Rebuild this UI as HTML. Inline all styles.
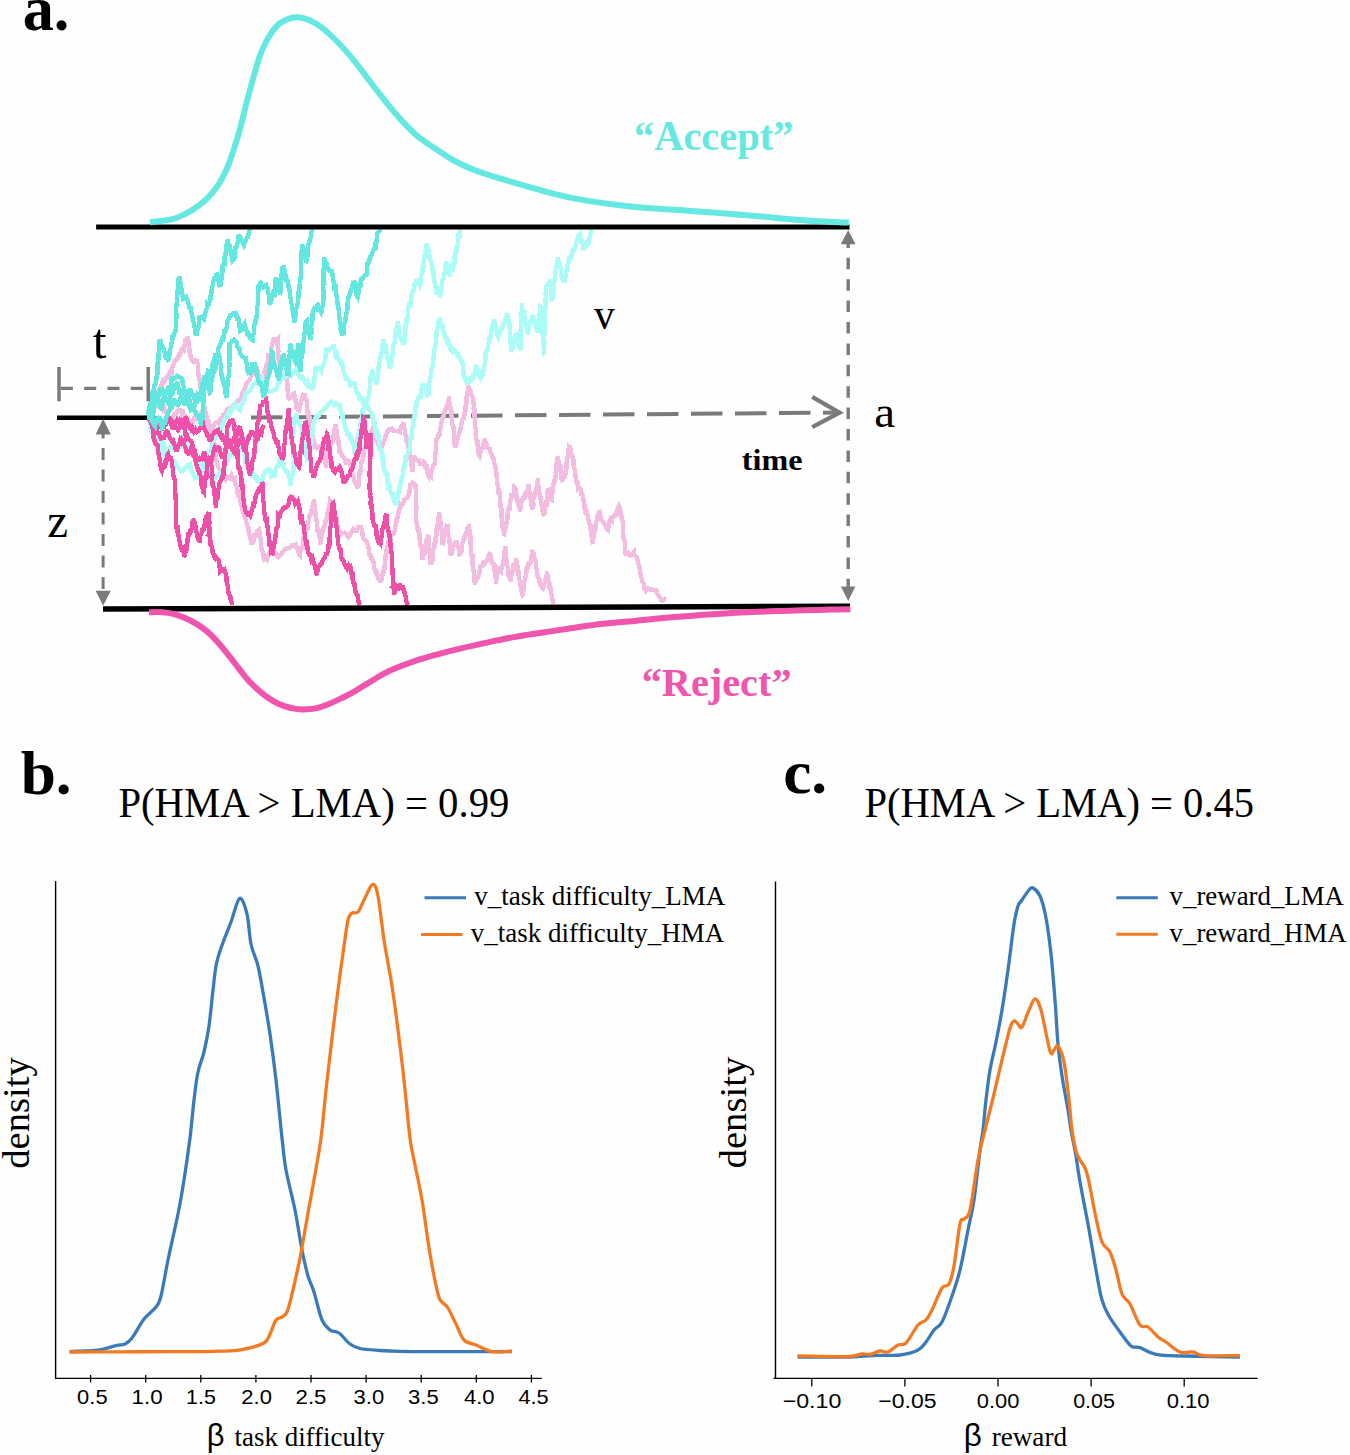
<!DOCTYPE html>
<html><head><meta charset="utf-8"><style>
html,body{margin:0;padding:0;background:#fefefe;}
svg{display:block;}
</style></head><body>
<svg width="1350" height="1455" viewBox="0 0 1350 1455">
<rect width="1350" height="1455" fill="#fefefe"/>

<line x1="251" y1="417.6" x2="839" y2="412.6" stroke="#7a7a7a" stroke-width="4" stroke-dasharray="31.5,12.5"/>
<polyline points="148.0,414.0 148.3,411.6 149.1,410.7 149.5,408.3 150.0,405.8 150.8,402.0 151.6,399.7 152.0,400.0 153.2,400.1 154.3,400.3 155.9,400.5 156.5,396.3 158.0,392.0 158.8,390.8 160.0,387.3 161.1,385.7 161.9,384.3 163.0,380.8 164.0,382.0 165.1,380.3 166.0,378.3 166.9,376.8 168.2,377.4 169.1,373.5 170.0,372.0 170.8,370.8 171.9,372.1 172.4,366.7 173.4,364.8 174.0,363.3 175.2,360.3 176.0,360.0 176.9,359.0 177.7,358.4 178.8,354.9 179.7,355.3 180.3,353.2 181.2,351.4 182.0,348.0 182.6,350.3 183.7,350.8 184.4,346.4 185.2,340.8 186.0,340.9 187.3,338.8 188.0,336.0 188.2,340.0 188.9,343.2 189.3,346.3 189.1,345.3 189.5,349.9 189.8,353.9 190.2,357.1 190.7,355.2 191.1,356.0 191.2,359.8 191.4,358.3 192.0,360.0 193.7,361.9 195.6,360.2 197.0,361.0 197.0,362.7 197.4,363.0 197.7,363.3 198.0,363.8 198.2,370.4 198.4,374.4 198.8,377.7 199.0,376.2 199.5,379.4 199.6,380.0 200.4,381.8 200.5,384.9 200.5,387.0 201.0,389.0 201.6,391.0 201.5,394.8 201.8,396.1 202.7,398.9 202.8,404.5 203.0,401.4 203.6,401.1 203.6,403.6 204.3,406.4 204.9,408.9 205.0,410.0 205.7,413.0 206.3,416.8 206.7,416.2 207.2,417.8 207.7,421.4 208.1,424.9 208.3,429.6 209.0,427.9 209.4,428.9 210.0,430.0 210.8,433.8 211.4,436.9 211.6,439.6 212.1,441.9 212.6,446.0 213.2,446.8 213.7,444.7 214.5,442.9 215.0,447.0 215.3,453.2 215.4,454.1 216.1,454.4 216.1,457.9 216.7,461.3 217.1,463.7 217.0,464.5 217.3,463.9 218.0,467.7 218.0,467.6 219.7,469.0 221.2,469.3 222.3,471.6 224.0,474.0 225.9,479.1 227.4,476.6 229.5,478.0 231.3,475.0 232.9,478.9 234.6,478.0 235.0,481.4 235.2,482.0 235.7,486.0 235.9,484.7 236.8,486.6 236.8,489.5 237.3,490.5 237.7,493.4 238.2,492.9 238.6,494.0 239.0,493.4 240.0,498.8 240.1,499.6 240.8,502.8 241.5,505.7 241.9,508.9 242.4,510.1 243.3,512.4 243.8,512.8 244.5,515.4 245.2,518.5 246.0,520.5 246.3,522.0 247.0,524.3 247.5,525.8 248.2,527.6 248.6,527.9 248.6,531.0 249.0,532.0 249.7,536.1 249.9,534.7 250.5,538.7 250.8,540.8 251.6,540.2 252.0,545.0 252.6,542.3 253.8,541.1 254.2,534.8 255.0,534.5 256.0,535.0 256.7,532.3 257.0,529.2 258.0,531.0 258.7,529.5 259.0,529.3 259.6,532.2 259.5,533.5 260.0,536.6 260.3,537.3 261.2,542.2 261.3,546.7 261.6,549.0 262.2,550.6 263.0,552.7 263.3,553.3 263.4,557.7 264.0,559.0 265.3,556.9 266.2,557.6 267.2,559.2 268.8,554.4 269.8,551.1 271.0,549.6 272.0,548.0 273.6,551.0 275.5,552.6 276.7,555.9 278.2,557.1 280.0,555.0 281.7,554.1 283.0,551.2 284.7,549.4 286.0,548.9 287.7,548.2 289.0,548.0 290.7,547.0 292.2,544.9 294.0,545.0 295.2,546.3 296.0,545.3 297.0,547.7 298.2,551.4 298.9,553.8 300.0,555.0 300.5,550.4 300.7,548.8 301.4,549.1 301.8,547.4 302.7,547.4 303.1,543.2 303.4,540.3 303.7,537.3 304.6,535.4 304.6,534.4 305.2,533.4 305.4,532.4 306.1,530.8 306.7,527.8 307.1,526.7 307.4,525.9 308.1,526.6 308.3,521.7 308.9,519.4 309.3,516.4 310.0,515.0 310.6,514.3 311.1,511.4 311.7,509.4 311.9,508.7 312.4,506.5 313.3,504.4 313.3,504.7 314.0,499.0 314.0,500.9 314.7,503.0 314.8,502.7 315.1,508.9 315.4,512.4 315.7,517.1 315.8,517.9 315.8,520.1 316.5,518.9 316.8,523.0 316.9,527.4 317.2,526.2 317.5,528.6 317.4,532.4 318.1,531.4 318.0,530.3 318.2,530.7 318.6,531.9 319.1,531.7 319.0,534.2 319.6,537.3 320.0,541.1 320.0,545.0 320.7,541.8 320.7,540.7 321.6,536.4 322.0,535.6 321.9,534.7 322.6,530.7 323.2,529.0 323.8,527.1 323.9,526.8 324.2,526.8 324.6,525.5 325.5,522.6 325.5,521.1 326.1,519.8 326.3,520.0 327.0,519.4 327.7,516.7 327.6,512.8 328.5,510.8 328.7,508.1 329.4,504.7 329.7,503.2 330.0,501.0 330.8,502.2 331.0,503.7 331.6,508.9 332.2,509.4 333.1,510.5 333.4,513.8 333.8,514.8 334.4,514.2 334.9,515.7 335.3,517.9 335.9,520.3 336.9,519.7 337.1,524.2 338.0,528.5 338.2,529.5 338.7,531.1 339.5,531.2 340.0,535.0 342.2,532.8 344.1,532.7 346.2,533.7 348.3,536.9 350.0,535.0 351.8,531.0 353.2,529.0 354.7,531.1 356.9,531.1 358.1,527.0 360.0,527.0 360.9,526.9 361.6,528.9 362.0,529.6 362.5,534.4 363.1,537.7 363.8,539.1 364.6,539.9 365.1,540.2 365.8,540.0 366.5,541.0 367.4,543.3 368.2,546.0 368.8,548.8 369.3,554.7 370.0,555.0 370.7,557.0 371.4,556.8 372.4,560.0 373.1,560.7 373.8,563.9 374.0,567.3 374.7,569.8 375.8,572.8 376.7,574.5 377.1,573.7 377.9,575.5 378.3,578.4 379.2,579.3 380.0,581.0 380.7,580.8 381.0,582.5 381.2,579.1 381.6,580.7 382.1,574.8 382.7,573.1 383.2,572.4 383.3,572.0 383.7,572.3 384.5,568.7 384.9,562.6 385.3,560.4 385.6,555.9 386.3,554.4 386.4,550.5 387.0,548.3 387.5,546.4 388.0,545.0 388.5,541.8 389.0,542.7 389.8,540.2 390.5,540.0 391.2,536.7 391.6,535.0 392.6,534.7 393.1,535.9 393.6,533.3 394.1,531.4 395.2,529.9 395.4,525.1 396.3,523.3 396.6,520.2 397.2,519.1 398.0,515.0 399.0,509.8 399.3,508.6 400.2,505.6 400.8,506.6 402.0,504.6 402.3,503.8 403.0,503.9 404.0,500.0 405.6,498.8 406.9,498.0 408.0,496.0 409.2,493.6 410.2,485.1 411.4,485.1 412.5,482.7 413.5,483.0 414.6,485.6 416.0,484.0 415.9,485.0 416.2,486.2 416.2,489.6 415.7,492.2 415.7,493.4 415.7,496.3 416.3,497.6 415.9,496.8 416.1,501.3 416.2,503.7 415.9,503.4 415.9,507.1 416.3,509.3 416.1,507.7 415.9,512.5 416.1,514.7 415.9,518.1 416.0,520.0 416.5,522.2 416.8,524.7 417.1,527.4 417.3,530.1 417.5,528.2 417.8,527.5 418.1,526.4 418.7,530.4 418.6,533.2 419.0,530.7 419.6,534.0 419.6,538.4 419.8,540.4 420.1,542.9 420.8,547.5 420.9,545.5 421.7,548.2 421.9,552.2 422.0,558.0 422.8,557.9 423.2,556.2 423.4,555.3 424.4,554.1 424.6,549.3 425.3,547.7 425.7,544.7 426.5,543.5 426.7,539.4 427.3,539.2 428.0,536.0 428.4,535.1 428.6,537.2 428.9,540.5 428.6,544.5 428.9,544.9 429.1,546.0 429.3,549.9 430.0,554.3 430.0,556.3 430.4,558.8 430.3,564.5 430.8,563.1 430.8,560.1 431.0,564.0 431.4,563.2 431.4,560.8 431.7,562.1 432.3,560.8 432.5,558.3 432.7,553.8 433.0,550.1 433.7,548.3 433.7,548.0 434.1,546.6 434.3,545.5 434.6,543.3 435.2,543.8 435.6,540.8 435.5,537.5 435.7,537.1 436.4,535.1 436.4,532.3 436.5,529.0 437.4,526.3 437.4,525.4 438.0,523.9 438.0,519.3 438.6,518.0 438.7,516.2 439.0,512.0 439.5,516.0 439.3,518.5 439.5,521.2 440.3,520.9 440.5,522.4 440.5,525.6 440.5,527.5 441.3,528.5 441.2,529.6 441.7,530.9 441.8,533.3 442.2,535.2 442.0,540.0 442.7,543.2 442.6,545.2 443.0,544.0 443.5,542.2 444.0,537.0 443.9,537.2 444.6,535.8 445.2,532.7 445.1,531.1 446.0,531.1 446.0,527.1 446.7,524.9 447.0,524.0 447.1,527.5 447.5,527.2 447.5,528.7 447.8,530.4 448.2,534.8 448.3,535.4 448.7,536.7 449.0,538.0 449.0,538.5 449.6,540.6 449.5,543.1 450.1,543.8 450.4,544.7 450.5,547.4 450.5,553.2 451.0,556.0 452.0,551.7 452.9,547.6 453.3,545.5 454.6,544.4 455.2,542.0 456.0,544.0 456.6,540.2 457.5,546.0 457.8,546.2 458.9,549.4 459.2,553.9 460.0,556.0 460.3,553.9 461.1,552.5 461.8,549.7 462.2,543.4 463.0,541.6 463.4,540.2 464.0,539.9 464.7,536.4 464.8,534.5 465.9,533.9 466.3,532.4 466.7,533.1 467.5,535.3 467.7,531.7 468.7,526.1 469.0,526.0 469.1,530.5 469.2,530.2 469.7,530.7 469.9,532.3 469.9,531.5 470.3,534.4 470.4,538.8 470.4,543.7 471.1,546.2 470.9,547.5 471.1,551.8 471.2,555.8 471.8,557.0 472.1,557.5 472.3,557.4 472.3,559.3 472.4,560.7 472.4,563.8 473.0,567.4 473.2,566.6 473.3,569.0 473.6,571.2 473.7,572.0 474.2,573.8 474.3,578.1 474.2,579.6 474.8,581.0 474.5,581.9 475.0,584.0 475.8,580.8 476.4,579.2 477.2,578.1 478.0,577.6 478.3,576.4 479.1,574.9 479.8,569.2 480.3,566.5 481.5,566.2 482.0,566.0 482.8,565.3 483.8,560.8 484.8,563.3 485.7,562.1 486.9,560.6 488.1,557.0 489.1,555.6 490.0,552.0 490.6,555.7 490.9,555.1 491.0,556.8 491.7,561.3 491.8,560.0 492.1,563.3 492.9,563.7 493.1,565.5 493.5,564.2 493.8,562.1 494.4,564.9 494.5,570.9 495.1,574.4 495.4,576.5 495.8,578.8 496.0,584.0 496.2,578.9 497.0,577.9 497.3,574.2 498.0,571.3 498.4,569.7 498.9,570.3 498.9,572.0 499.8,571.9 500.3,570.0 500.8,568.2 500.7,569.6 501.2,570.3 501.6,567.5 502.0,566.2 503.0,564.6 503.4,562.5 503.7,559.3 504.3,554.5 504.6,551.3 505.0,546.0 505.3,547.5 505.6,550.2 506.2,554.7 506.2,558.4 506.8,560.6 507.0,564.1 507.2,565.5 507.9,567.4 507.8,569.1 508.5,572.5 508.5,573.8 508.7,573.7 509.2,573.3 509.8,579.7 510.3,577.5 510.0,579.2 510.7,580.6 511.0,582.0 511.2,575.9 512.0,573.6 512.1,572.1 513.0,571.7 513.4,567.1 513.9,567.7 514.3,564.9 514.5,567.1 515.0,564.4 515.5,563.2 516.0,560.0 516.3,560.0 516.7,562.9 517.0,564.6 517.9,567.2 518.2,569.1 518.6,571.8 518.7,575.5 519.3,579.7 519.9,580.6 520.2,579.8 520.3,584.9 520.9,587.4 521.6,591.8 521.6,590.8 522.0,592.3 522.5,594.6 523.0,594.0 523.4,590.3 523.6,584.0 524.2,582.0 524.9,580.4 525.3,577.8 525.6,577.0 526.1,573.2 526.5,570.4 526.7,567.2 527.4,565.7 527.7,566.3 528.4,563.2 528.9,564.7 529.0,565.2 529.6,564.1 530.1,562.7 530.3,563.7 530.7,560.7 531.4,557.9 531.9,553.1 532.3,551.5 532.7,551.5 533.0,550.0 533.6,553.3 533.8,557.6 534.3,557.7 535.1,558.8 535.0,559.6 535.7,561.0 535.9,566.1 536.8,570.3 537.3,574.0 537.5,577.1 537.7,576.5 538.4,578.0 538.9,579.4 539.4,579.9 539.8,583.4 540.3,584.5 540.8,585.5 541.1,585.9 541.5,584.3 542.0,588.0 543.0,588.7 543.3,588.0 543.9,585.5 544.7,582.7 545.5,578.9 546.0,577.0 547.0,574.0 547.5,574.7 547.8,578.3 548.2,580.2 548.4,580.9 549.3,583.3 549.3,587.3 549.9,589.5 550.4,587.3 550.8,588.5 551.0,590.8 551.3,593.9 551.8,594.5 552.0,597.3 552.8,600.9 553.0,604.0" fill="none" stroke="#f2bde0" stroke-width="4.4" stroke-linejoin="miter" stroke-miterlimit="3" shape-rendering="crispEdges"/>
<polyline points="148.0,414.0 149.6,409.2 150.9,405.5 152.3,407.4 153.9,405.9 155.5,406.6 157.0,405.3 158.6,406.2 160.0,405.0 160.9,406.2 162.4,406.3 163.4,405.8 164.2,410.4 165.3,409.8 166.9,414.4 167.9,416.9 168.7,420.9 170.0,420.0 171.2,418.2 173.1,416.2 174.4,414.0 175.9,414.7 177.2,411.4 178.8,409.7 180.0,410.0 181.1,410.4 182.1,413.8 183.2,412.5 184.2,416.0 185.6,421.3 186.4,420.6 187.8,422.4 188.7,421.0 190.0,425.0 191.5,422.0 193.1,421.5 194.2,417.0 195.7,415.4 197.4,418.6 198.3,418.1 200.0,415.0 201.1,417.7 202.2,417.9 203.6,417.9 204.2,422.7 205.7,425.4 206.7,425.6 207.7,423.5 209.1,422.9 210.0,430.0 211.6,427.5 212.7,428.3 214.5,424.0 215.7,422.5 217.1,422.1 218.4,423.2 220.0,420.0 221.3,421.0 222.9,415.4 224.4,415.0 225.9,412.8 226.9,409.7 228.7,408.7 230.0,410.0 231.5,409.6 233.0,405.6 234.5,404.9 235.8,403.2 237.2,402.1 238.6,399.9 240.0,400.0 241.0,397.8 242.0,396.1 242.7,392.6 243.4,391.2 244.5,389.0 245.4,387.1 246.1,384.3 246.8,383.5 247.7,381.6 248.7,381.0 249.4,380.0 250.7,377.0 251.4,376.3 252.6,372.3 253.2,372.0 253.8,371.1 254.9,369.4 255.9,367.4 256.1,369.7 257.1,368.3 257.2,368.3 258.3,373.1 258.3,375.3 259.2,377.1 259.3,380.1 259.8,381.8 260.7,383.3 261.1,386.0 261.7,384.1 262.1,382.0 262.9,383.0 263.0,381.0 264.0,379.4 264.4,377.6 264.4,372.2 265.0,372.0 265.9,367.2 266.3,367.4 266.7,366.2 267.4,364.0 267.9,360.6 268.3,356.8 268.8,357.2 269.6,356.6 270.2,357.5 270.6,354.2 271.0,351.7 271.4,347.3 271.8,346.6 272.8,341.3 273.2,339.8 273.6,339.4 275.7,339.9 277.7,338.4 277.5,339.5 277.7,345.9 277.9,348.0 278.1,349.3 278.3,350.9 278.5,349.8 278.1,354.3 278.6,354.8 278.7,359.6 278.8,358.8 278.8,359.0 278.8,362.2 279.1,362.5 279.9,363.7 280.5,369.4 280.7,372.3 281.5,371.3 281.9,374.7 283.3,374.9 284.7,377.3 286.0,377.8 286.4,378.1 286.9,380.0 287.2,381.6 287.3,386.5 287.5,388.7 287.9,388.2 288.0,392.9 288.3,396.5 288.6,398.3 289.1,398.5 290.4,397.9 291.5,396.1 292.7,394.2 294.3,393.4 294.4,397.0 295.4,398.6 295.8,402.5 296.0,405.9 296.4,407.8 296.7,408.4 297.4,408.5 297.6,409.1 298.3,410.4 298.5,412.0 299.3,410.2 299.7,404.2 300.6,403.5 301.2,400.9 301.3,400.0 302.3,398.0 302.8,396.1 303.2,394.7 304.4,394.8 304.7,393.4 304.8,395.7 305.0,400.7 305.5,399.9 305.9,398.4 306.5,399.9 306.8,400.5 307.1,401.8 306.9,404.6 307.7,413.0 307.8,414.1 308.0,414.8 308.7,413.4 308.7,415.4 309.6,416.8 309.6,420.2 310.0,424.2 310.9,428.4 310.9,428.7 311.7,429.3 312.1,433.2 312.5,434.7 312.5,435.1 313.0,435.8 313.2,438.6 314.1,441.6 314.5,444.6 314.7,446.7 316.8,448.2 318.9,446.8 320.7,445.4 323.0,443.6 323.1,447.8 323.5,448.9 323.7,450.6 324.3,451.0 324.1,449.6 324.8,453.1 324.5,457.3 325.3,458.1 325.4,461.2 325.4,463.1 325.8,465.4 326.1,467.4 326.5,462.7 327.2,459.1 327.2,457.4 327.8,454.8 328.0,453.4 328.4,457.2 329.2,453.6 329.6,451.2 329.7,447.6 330.1,443.4 330.5,444.3 331.2,444.1 331.6,442.0 331.9,437.3 332.3,439.5 332.9,439.9 333.4,437.0 333.9,433.2 334.2,431.0 334.4,431.5 334.7,428.4 335.4,423.9 335.5,426.0 336.2,428.0 336.2,428.3 336.4,430.4 336.8,432.1 337.3,435.0 337.2,435.6 337.8,440.1 338.1,439.0 338.4,441.0 338.5,443.3 339.1,447.5 339.5,448.5 339.6,451.9 341.1,452.9 342.3,456.2 343.7,457.0 344.3,458.5 345.0,459.3 346.1,464.3 346.9,462.2 347.7,461.3 348.6,462.9 349.0,461.9 350.3,463.0 351.0,469.6 351.4,471.8 352.2,473.5 353.2,476.3 354.0,479.0 354.7,481.4 355.4,483.1 356.3,484.2 357.2,488.2 357.5,487.5 357.8,486.8 358.4,486.4 358.7,484.7 358.7,481.4 359.0,476.0 359.4,472.1 359.7,471.6 360.4,472.4 360.6,471.8 361.0,468.6 361.3,462.8 361.4,462.2 362.3,460.5 363.2,457.8 364.0,450.7 364.8,448.0 365.1,447.3 366.2,444.6 366.8,440.0 367.9,439.2 368.4,435.4 369.4,435.2 370.4,435.0 371.0,433.8 371.6,431.2 372.5,429.1 373.3,430.4 374.4,432.3 374.9,431.0 375.2,429.7 375.6,432.6 376.1,437.5 376.6,440.2 377.2,442.7 377.6,441.8 378.0,442.3 378.4,444.1 379.1,447.2 379.7,448.1 380.0,451.9 380.8,449.0 381.6,446.5 382.6,444.9 383.0,442.9 384.1,441.5 385.2,438.5 385.7,435.0 386.7,433.3 387.5,430.8 388.2,430.2 389.5,429.4 390.0,430.0 391.7,428.5 393.9,431.2 396.0,431.0 398.1,431.1 400.0,432.0 400.8,427.5 401.9,425.7 402.9,423.7 404.0,424.0 404.1,426.6 404.9,428.7 404.7,429.6 405.5,435.2 405.7,435.5 406.0,435.7 406.6,438.7 406.7,441.9 407.0,441.9 407.5,441.8 407.9,445.8 408.0,448.0 408.3,446.5 408.6,447.9 408.8,449.5 409.2,450.2 409.5,453.7 410.0,456.2 410.4,457.4 410.4,458.3 411.3,462.7 411.2,464.3 411.9,468.3 412.0,472.0 412.2,466.2 412.8,466.9 412.9,460.7 413.0,459.3 413.5,459.3 413.5,457.6 413.8,455.5 414.0,456.0 415.1,458.6 416.7,459.7 417.7,459.8 418.8,460.0 420.0,464.0 421.4,464.0 422.9,463.6 424.0,460.0 424.5,463.4 425.2,467.5 426.3,468.9 426.9,468.1 427.3,471.0 427.8,474.7 428.9,476.6 429.4,474.8 430.0,476.0 430.8,476.7 431.7,469.2 432.3,468.9 433.1,465.6 434.2,464.6 435.0,464.0 435.1,460.2 435.3,456.8 435.1,457.4 435.3,455.0 435.4,454.7 435.4,452.9 435.7,451.0 435.7,447.1 436.0,444.7 435.9,442.2 435.9,438.7 436.0,440.0 436.3,439.5 436.9,439.0 438.0,437.8 438.3,435.5 439.1,435.2 439.5,434.6 440.0,429.6 440.7,427.7 441.2,423.7 442.0,420.0 442.3,420.1 443.4,416.5 444.0,413.2 444.2,412.9 445.2,410.3 445.7,408.7 446.0,408.6 446.7,404.9 447.5,404.9 447.8,402.3 448.7,399.1 449.0,396.0 449.1,397.9 449.2,401.7 449.8,403.2 449.9,403.7 450.0,404.0 450.6,409.6 450.4,407.9 450.8,410.0 451.4,411.9 451.2,414.9 451.6,415.9 452.1,418.7 452.3,422.2 452.2,423.7 452.5,424.6 453.0,426.0 453.0,425.9 453.6,427.3 453.4,428.5 454.1,430.8 454.0,435.2 454.1,439.7 454.5,440.6 454.5,443.6 455.0,446.0 455.6,445.9 456.0,443.8 456.6,440.7 457.0,441.2 457.6,437.9 458.6,435.3 458.8,434.7 459.6,432.0 459.8,429.5 460.7,428.6 461.1,426.2 461.8,422.0 462.2,420.2 462.6,418.1 463.3,419.8 464.0,416.0 464.2,416.2 464.5,414.7 465.0,414.1 465.3,412.0 465.3,408.7 465.9,403.5 465.9,404.3 466.4,403.2 466.4,397.4 466.6,396.4 467.4,393.9 467.6,392.2 467.8,391.0 468.0,388.0 468.6,387.1 469.6,389.5 470.6,391.4 471.1,393.9 472.4,396.8 473.0,398.0 473.2,401.5 473.0,400.3 473.3,400.6 473.4,402.2 473.9,405.9 473.7,406.9 474.3,406.8 474.4,412.2 474.1,413.9 474.7,415.8 474.6,415.9 475.0,421.3 475.0,424.0 475.1,427.4 475.8,428.5 475.7,435.2 476.5,440.4 476.9,438.9 476.9,443.6 477.4,445.1 477.9,444.6 478.1,448.6 478.4,448.7 478.5,450.7 478.7,453.5 479.2,455.4 479.6,456.0 480.0,454.0 480.6,451.1 481.5,449.1 481.8,448.2 482.4,447.7 483.4,447.5 483.5,444.3 484.4,440.4 485.0,438.0 485.4,442.5 486.3,442.8 486.9,448.0 487.4,446.9 488.0,448.0 488.6,449.8 489.4,447.5 490.1,450.2 490.7,452.7 491.4,453.2 492.1,455.7 493.4,458.7 494.0,460.7 494.3,463.1 495.4,467.5 496.0,468.0 496.2,470.1 496.5,474.4 496.6,475.9 497.2,479.4 497.1,482.7 497.2,483.2 497.7,485.5 498.0,487.0 498.4,488.7 498.5,493.0 498.9,493.4 499.2,491.9 499.1,490.3 499.4,491.2 499.4,491.7 499.8,493.5 500.2,496.4 500.1,501.6 500.7,503.9 500.6,506.6 501.1,507.0 501.6,509.8 501.3,514.2 501.5,518.6 502.0,516.6 502.1,520.1 502.7,524.9 502.5,528.3 503.2,527.1 503.5,528.3 503.7,531.2 503.7,533.8 504.0,534.0 504.6,531.4 504.7,532.3 505.5,528.2 505.9,526.0 506.2,522.8 506.8,522.7 507.5,518.8 507.7,513.5 508.2,512.5 508.5,509.8 508.9,507.2 509.7,507.3 509.7,503.6 510.2,500.9 511.0,499.1 511.3,497.9 511.5,494.9 512.3,494.9 512.6,497.2 513.2,494.4 513.6,496.0 514.1,490.0 514.6,490.7 515.0,488.0 515.4,488.4 515.7,490.2 516.3,493.2 516.4,498.2 517.1,498.4 517.6,499.3 517.7,501.5 518.3,501.5 518.5,504.8 519.1,507.3 519.8,508.5 520.0,512.0 520.7,506.8 520.9,503.7 521.6,501.6 522.2,498.5 522.6,499.5 523.5,497.2 523.8,498.0 524.5,498.1 525.3,495.0 525.7,493.6 526.5,494.0 526.9,491.2 527.7,489.2 528.0,486.0 528.6,484.8 528.8,486.0 528.7,489.7 529.4,491.7 529.4,494.6 530.0,495.7 530.5,498.9 530.4,498.7 531.3,502.1 531.4,504.1 531.5,504.8 532.0,510.0 532.5,507.9 532.9,507.2 533.4,505.7 533.2,500.7 533.8,498.2 534.0,495.6 534.6,495.6 535.2,495.0 535.6,493.2 535.5,492.8 535.9,489.2 536.7,489.3 537.0,485.7 537.2,483.6 537.6,482.6 538.0,478.0 538.0,482.0 538.6,487.1 539.2,485.8 539.0,490.2 539.4,491.5 540.0,492.9 540.1,494.1 540.4,497.2 540.8,501.2 541.0,501.4 541.5,504.5 541.8,506.7 542.4,507.2 542.7,510.8 542.5,510.9 543.1,511.9 543.5,513.6 543.9,515.7 544.0,516.0 544.2,513.9 544.6,513.2 544.8,509.2 544.9,506.7 545.3,504.1 545.6,502.2 546.3,504.5 546.3,506.6 546.5,502.1 546.7,500.1 547.0,497.4 547.3,496.5 547.5,492.0 548.0,488.0 548.5,489.7 549.1,495.5 549.9,497.5 550.6,497.3 551.5,499.7 552.0,500.0 552.1,497.5 552.5,491.2 552.6,488.0 553.2,483.7 553.6,485.7 553.7,483.2 553.7,481.0 554.3,480.4 554.7,481.0 554.8,481.0 554.7,479.1 555.5,477.6 555.8,473.8 555.7,472.5 555.9,470.1 556.2,464.1 556.7,462.7 557.1,460.6 557.3,460.4 557.7,459.8 557.6,458.1 558.0,456.0 558.4,460.8 558.5,460.9 559.0,465.5 559.0,465.9 559.9,465.9 560.0,466.8 560.6,466.8 560.4,470.4 561.1,472.7 561.5,477.1 561.6,479.5 562.0,480.0 562.6,479.5 563.1,477.9 563.3,476.0 564.0,475.5 564.6,475.7 564.8,476.2 565.2,475.6 565.8,470.8 566.5,469.4 566.5,464.7 566.9,460.8 567.6,456.8 568.2,452.0 568.8,447.8 569.0,448.1 569.8,445.4 570.0,446.0 570.2,447.4 571.0,451.7 571.1,453.1 571.5,454.3 571.7,455.8 572.3,457.3 572.4,455.7 572.7,456.6 573.4,459.6 573.3,464.8 574.0,465.1 574.0,466.9 574.7,469.3 574.9,473.2 575.5,475.2 575.4,475.6 576.0,480.0 576.7,482.3 577.1,482.0 578.1,482.8 578.3,488.7 579.1,488.0 579.5,488.6 580.5,489.2 581.1,490.8 581.4,494.0 582.3,494.3 583.0,496.5 583.3,499.1 584.0,504.0 584.7,504.8 584.6,508.8 585.6,511.7 585.6,512.9 586.4,513.7 586.5,513.2 587.0,512.7 587.7,515.4 587.8,518.4 588.4,519.4 589.2,522.8 589.5,523.5 590.1,526.2 590.6,524.2 590.5,527.8 591.0,533.4 591.8,537.1 592.2,539.0 592.3,541.9 593.0,544.0 593.3,539.3 593.7,536.0 594.3,532.0 594.3,529.1 594.6,532.0 595.4,529.5 595.7,524.6 596.0,525.1 596.0,523.6 596.3,522.0 596.7,520.1 597.0,518.5 597.3,516.6 597.9,516.1 598.2,514.8 598.7,514.2 599.0,510.0 599.8,513.1 600.5,516.0 601.4,519.4 602.6,521.4 603.0,521.8 603.8,522.5 604.7,524.9 605.3,526.0 606.7,523.8 606.9,529.1 608.0,530.0 608.9,524.9 609.7,520.5 610.4,518.9 611.7,520.1 611.9,517.5 613.2,517.0 614.1,515.7 614.8,515.1 615.7,515.5 616.8,511.1 617.1,510.0 618.2,508.2 619.0,506.0 619.5,506.9 619.4,509.4 619.7,510.0 620.4,512.0 620.4,512.7 620.8,512.5 621.2,514.6 621.6,516.4 621.8,517.3 621.6,518.2 622.1,518.9 622.7,521.9 623.0,527.2 622.9,529.3 623.2,536.2 623.5,535.6 623.7,538.7 624.2,539.0 624.7,541.3 624.8,544.0 625.1,547.6 625.2,552.4 625.6,553.9 626.0,554.0 628.2,553.0 630.2,555.5 631.8,554.8 634.0,552.0 634.4,554.7 635.2,556.0 636.0,556.3 636.5,556.8 636.9,558.7 637.3,559.5 638.2,562.8 638.7,564.6 639.5,566.9 639.9,569.7 640.5,574.2 641.3,577.4 642.0,579.9 642.3,581.6 642.9,582.1 643.6,583.4 644.5,586.8 644.6,589.3 645.7,590.6 646.0,590.0 647.9,588.6 650.0,589.8 652.0,589.5 654.2,590.3 656.2,590.3 658.0,595.0 659.8,596.9 661.1,599.9 662.8,600.8 664.6,599.1 666.0,600.0" fill="none" stroke="#f2bde0" stroke-width="4.4" stroke-linejoin="miter" stroke-miterlimit="3" shape-rendering="crispEdges"/>
<polyline points="148.0,414.0 148.9,414.8 149.5,418.7 150.4,417.9 151.2,420.6 151.5,422.1 152.3,422.2 153.0,424.7 154.0,428.0 154.8,429.8 155.4,430.4 156.7,434.7 157.4,437.9 158.3,438.7 159.4,439.9 160.0,440.0 161.3,439.2 161.9,443.0 162.9,441.4 163.9,444.6 164.9,448.1 166.0,450.0 167.2,449.3 168.9,450.3 170.7,447.7 172.0,445.0 173.1,446.3 174.8,449.1 176.1,446.8 177.6,448.2 179.0,451.0 179.9,445.9 180.4,443.7 181.4,438.9 182.4,439.2 183.1,438.1 184.0,440.0 185.0,439.8 185.6,440.5 186.3,441.4 187.4,446.4 187.9,447.0 188.7,451.5 189.9,451.4 191.8,450.2 193.0,447.0 193.6,449.8 194.9,453.9 195.3,456.8 196.0,460.4 196.8,466.2 198.1,464.5 199.0,464.9 199.5,463.6 200.4,465.3 201.0,466.2 202.2,466.4 202.8,469.0 203.3,469.5 203.6,465.9 204.2,461.7 204.4,461.4 205.4,459.3 205.5,459.8 206.2,457.6 206.5,454.0 207.5,452.5 208.1,451.6 209.3,451.6 210.4,450.6 211.1,447.4 212.2,446.4 212.8,443.8 214.0,440.0 215.2,436.8 216.0,435.1 217.3,432.0 217.8,435.8 219.0,430.6 220.2,430.7 221.1,427.6 222.0,425.0 222.7,424.4 224.1,421.1 225.3,418.5 225.9,417.1 227.3,415.9 228.1,416.6 228.7,411.8 230.0,410.0 231.1,411.7 232.7,407.7 233.6,406.8 235.0,404.0 236.4,406.6 237.6,408.2 238.7,408.6 240.0,410.0 240.7,408.2 241.0,407.3 241.7,404.6 242.8,403.8 243.0,402.2 243.9,400.7 244.6,399.5 245.0,395.1 245.6,393.4 246.9,392.4 248.6,391.5 250.0,390.7 251.4,388.4 252.8,384.4 254.4,382.9 255.9,383.0 257.4,382.5 259.2,380.8 260.2,379.8 262.0,378.0 262.8,383.5 263.6,387.1 264.7,387.8 265.7,389.9 266.5,388.8 267.8,389.7 268.2,389.8 269.4,391.3 271.5,390.8 273.7,390.2 275.6,390.2 276.6,387.9 277.5,385.1 278.5,383.1 279.1,383.7 280.3,382.2 281.0,380.0 282.7,373.9 284.4,373.3 286.0,376.4 288.0,375.0 289.4,373.9 291.0,375.9 292.7,374.1 294.7,371.9 296.0,370.0 297.6,372.0 299.0,376.7 300.4,377.8 301.7,376.6 303.0,378.0 304.1,379.2 305.2,382.2 306.9,384.6 307.9,382.0 309.0,385.0 310.5,387.6 311.9,388.4 313.0,388.2 313.5,389.3 313.3,385.8 314.1,385.9 314.3,381.1 314.3,377.7 314.9,374.9 314.8,374.8 315.1,370.0 315.5,369.5 315.7,366.7 316.1,367.4 317.9,369.4 319.7,367.7 321.3,370.5 322.0,366.6 322.4,367.6 322.4,367.2 323.2,363.1 323.4,365.3 323.9,362.8 324.8,360.9 325.0,360.2 325.6,356.8 326.0,352.4 326.5,349.8 328.4,350.7 330.0,348.6 331.7,348.3 333.7,344.6 334.5,349.2 334.8,350.4 335.5,355.0 336.6,353.8 336.9,356.4 337.4,358.3 338.5,358.9 338.9,360.2 339.9,362.2 340.2,361.5 341.3,361.3 341.7,361.9 342.6,365.9 343.1,370.7 344.1,372.6 345.2,375.4 345.9,380.4 346.7,377.5 347.9,379.2 348.8,379.8 349.5,382.3 350.3,385.0 352.4,383.5 354.5,383.0 355.3,386.7 356.0,391.0 356.9,392.9 357.7,393.8 358.4,393.8 359.1,394.5 359.4,398.7 360.3,399.1 361.0,397.7 362.2,398.2 362.9,400.6 363.2,403.7 364.2,406.0 364.9,410.0 365.7,406.4 365.9,404.9 366.5,403.6 366.9,400.1 367.1,401.2 368.0,399.2 368.3,397.0 368.7,396.1 368.9,393.5 369.3,390.5 370.0,389.0 370.1,384.1 370.1,380.8 370.5,379.7 370.7,376.4 371.3,376.3 371.5,376.6 371.2,375.9 371.5,373.5 372.1,371.8 372.0,369.0 372.4,371.2 372.8,374.5 373.7,375.2 374.0,377.2 374.7,378.6 375.1,382.3 375.7,380.0 376.0,385.0 376.1,383.0 376.8,382.5 377.2,381.1 377.6,377.3 377.8,372.9 378.4,370.3 378.3,368.8 378.8,365.6 379.4,361.2 379.9,363.0 380.1,359.9 380.5,358.0 380.9,355.4 381.0,352.7 381.7,351.3 382.0,349.1 382.1,348.8 382.5,344.9 383.1,340.5 383.2,342.8 383.4,341.1 384.0,341.0 384.5,345.2 384.7,345.9 385.5,345.5 385.9,347.6 386.3,351.0 386.4,352.9 387.1,355.0 387.6,358.1 387.9,358.6 388.5,362.3 389.0,366.6 389.3,366.7 389.8,367.4 390.0,369.0 390.1,365.2 390.6,360.5 390.8,361.2 391.4,362.2 391.8,360.0 392.3,356.0 392.2,354.5 393.0,353.9 392.9,349.5 393.3,345.9 393.9,344.3 394.1,344.3 394.4,343.1 394.9,342.6 395.0,338.8 395.7,332.5 395.7,331.8 396.5,328.6 396.8,327.0 397.0,324.9 397.0,324.4 397.8,321.6 398.0,323.0 398.4,325.8 399.3,330.8 399.9,333.9 400.4,336.0 401.0,339.0 401.2,339.5 402.1,339.8 402.1,340.8 402.9,342.5 403.2,342.5 404.0,345.0 404.5,340.2 404.6,339.1 404.9,336.6 405.1,332.5 405.2,329.8 405.5,329.0 405.3,325.7 405.6,324.7 405.7,323.9 406.4,325.0 406.6,320.9 406.7,318.7 406.7,317.8 407.0,318.8 407.1,317.4 407.6,316.9 408.1,312.1 408.0,309.0 408.7,306.4 408.8,304.6 409.4,303.1 410.2,302.4 410.7,302.9 411.0,298.4 411.6,295.2 412.0,293.0 413.0,291.6 413.5,289.9 414.1,287.9 414.7,283.3 414.9,285.4 415.6,282.7 416.0,281.0 417.5,281.0 418.4,280.4 420.0,285.0 420.4,284.0 420.4,281.7 420.8,277.6 421.3,274.2 421.7,275.5 422.1,273.3 422.5,271.4 422.6,266.8 422.7,268.4 423.5,267.1 423.4,263.9 424.0,261.4 424.3,257.7 424.8,257.8 425.1,257.1 425.2,253.2 425.8,249.9 426.1,246.4 426.3,244.2 426.5,246.1 427.0,243.0 427.2,245.4 428.2,249.5 428.5,249.8 428.7,253.0 429.5,255.3 429.6,258.5 430.3,260.2 430.5,259.3 431.4,263.3 431.9,266.3 432.4,265.6 432.3,267.3 433.2,268.6 433.5,274.9 434.2,279.7 434.4,281.7 435.0,282.9 435.4,286.2 436.0,288.4 436.0,291.5 436.5,292.6 437.2,292.3 437.6,290.0 438.1,288.9 438.3,287.2 439.2,288.9 439.3,291.9 440.0,297.0 440.5,295.8 440.5,296.0 441.1,291.2 441.6,288.6 441.8,287.3 441.7,284.9 442.1,282.3 442.4,279.8 443.1,278.6 443.4,279.5 443.7,277.6 444.0,275.5 444.3,274.6 444.7,272.5 445.1,267.1 445.6,266.1 445.8,263.7 446.0,261.0 446.7,264.0 446.8,267.0 447.8,264.5 448.0,267.9 448.6,267.0 448.9,271.7 449.4,274.0 450.0,277.0 450.1,273.1 450.7,269.9 451.5,269.2 452.0,268.9 452.0,267.9 452.7,268.7 453.2,266.1 453.7,267.1 454.0,263.5 454.3,264.7 454.5,257.0 455.3,254.9 455.5,251.2 456.0,249.0 456.7,249.6 457.1,246.7 457.8,243.9 457.8,237.3 458.3,234.6 458.9,234.5 459.7,235.1 459.7,232.1 460.4,228.6 461.0,229.0" fill="none" stroke="#abfbf7" stroke-width="4.4" stroke-linejoin="miter" stroke-miterlimit="3" shape-rendering="crispEdges"/>
<polyline points="148.0,414.0 148.3,416.6 148.7,418.7 149.0,416.2 149.9,420.6 150.0,425.9 150.5,428.1 151.4,428.6 151.6,432.0 152.0,432.0 152.8,432.5 153.5,433.8 154.3,434.3 155.4,435.4 156.6,438.1 157.3,441.7 158.0,445.0 159.3,446.2 160.3,446.8 161.6,451.2 162.4,452.7 164.1,454.6 165.0,455.0 166.2,456.9 168.0,454.7 169.4,457.8 170.7,461.4 172.0,462.0 173.4,461.6 174.8,461.6 175.8,462.9 177.1,466.6 178.4,467.9 180.0,470.0 181.3,471.3 183.4,470.4 184.6,468.3 186.7,465.5 188.0,465.0 188.8,466.5 190.2,465.1 190.9,468.3 191.9,471.3 193.2,474.8 193.8,475.5 194.8,478.2 196.0,478.0 197.2,476.8 199.1,476.1 200.7,477.0 201.8,474.0 203.2,475.0 205.0,470.0 206.3,472.2 207.4,472.9 208.7,474.8 210.1,473.2 211.2,475.6 212.5,477.9 214.0,480.0 215.5,476.3 216.7,475.8 218.2,475.9 219.6,472.6 220.9,471.6 222.0,470.0 222.9,470.4 224.3,470.1 225.0,465.4 226.1,461.8 226.7,460.4 228.0,460.6 228.9,457.5 230.0,455.0 231.5,453.5 232.9,454.1 234.0,451.2 235.7,449.7 237.3,449.7 238.6,447.2 240.0,445.0 240.9,446.5 241.3,448.0 242.2,451.6 242.5,450.5 243.2,450.0 244.1,453.4 244.9,457.5 245.1,461.9 246.0,462.0 246.8,463.9 247.8,466.3 248.3,467.1 249.7,469.3 250.1,472.3 251.1,477.3 252.0,475.0 253.4,476.3 254.3,475.0 256.0,478.3 256.9,475.8 258.1,479.7 259.7,482.3 260.7,485.0 261.4,481.2 262.3,480.1 263.2,475.5 264.1,475.0 264.6,474.0 265.5,471.3 266.3,470.3 267.6,470.6 268.0,470.3 269.0,467.4 269.7,470.8 270.8,474.4 271.6,472.6 272.4,472.3 273.6,475.5 274.2,477.8 274.9,473.7 275.7,468.3 276.9,467.7 277.7,465.3 278.2,465.2 279.1,462.4 280.1,464.6 280.9,463.9 281.5,462.2 282.3,464.3 282.7,464.8 283.8,464.7 284.2,467.7 284.9,470.6 285.7,471.0 286.5,470.7 287.3,473.9 287.7,471.8 288.8,474.9 289.4,476.5 290.1,482.2 290.8,486.0 291.0,482.8 291.5,478.1 292.1,478.9 292.0,477.5 292.5,474.6 293.2,470.3 293.5,468.0 293.5,465.5 294.0,467.4 293.6,464.7 293.7,462.8 293.8,459.2 293.4,455.6 293.1,451.0 293.2,450.2 292.8,449.5 292.5,448.0 292.5,447.8 292.1,447.1 292.3,445.6 291.9,442.1 291.9,441.5 292.4,436.7 292.7,439.1 292.8,438.2 292.9,433.1 293.1,430.0 293.7,426.5 294.1,423.7 294.1,417.4 294.3,417.2 294.5,419.1 294.9,417.3 295.5,417.4 295.4,417.3 296.0,413.5 296.7,416.8 297.8,421.6 299.3,423.3 300.0,420.7 300.1,423.7 300.5,425.4 301.2,426.1 301.3,430.0 301.9,431.1 302.0,434.8 302.6,435.2 303.0,437.3 302.9,440.0 303.6,442.2 303.7,444.5 304.4,447.2 304.8,446.9 305.1,446.6 305.1,448.2 305.4,453.7 306.1,455.3 306.4,455.4 306.5,456.0 306.9,458.0 307.4,462.2 307.5,459.7 307.9,457.4 308.5,455.5 308.6,453.0 308.8,450.5 309.2,448.9 309.8,449.6 310.2,445.0 310.5,442.9 310.9,444.6 311.2,443.8 311.2,442.7 311.5,442.9 312.1,439.5 312.0,435.7 312.6,431.0 313.2,425.4 313.9,421.9 314.9,418.5 315.7,418.0 316.4,415.9 317.4,415.8 318.0,416.8 318.8,415.6 319.9,413.1 321.5,412.3 323.0,410.4 324.6,408.0 326.2,407.3 327.4,405.7 329.0,403.6 330.8,401.8 332.0,403.0 334.0,404.9 335.7,403.2 337.4,404.3 339.6,405.0 340.3,410.2 340.6,410.5 340.9,412.9 341.6,415.3 341.9,414.9 343.0,414.6 342.9,418.5 343.7,420.7 344.1,421.4 344.9,426.3 345.8,428.4 346.5,430.7 347.2,433.3 347.6,435.3 348.5,433.2 349.0,433.9 349.4,436.1 350.2,438.7 351.0,440.4 351.6,439.9 351.9,440.9 352.6,443.3 353.7,445.0 354.1,451.9 354.8,452.2 354.8,452.0 355.5,448.6 355.9,447.3 355.9,444.7 356.4,444.4 356.8,443.0 357.2,440.4 357.6,438.9 357.8,435.0 358.3,434.0 359.1,434.4 359.2,431.1 359.7,429.7 360.3,423.9 360.6,423.2 360.7,422.3 361.5,417.8 361.8,418.6 362.3,416.3 362.4,410.4 363.8,408.1 364.7,408.0 366.0,405.0 367.4,406.5 368.3,407.4 369.8,410.5 371.0,412.2 372.0,413.0 372.3,414.4 372.8,417.0 373.1,418.0 373.5,422.9 374.0,423.4 374.3,423.9 375.2,423.1 375.3,428.8 375.6,431.8 376.0,431.5 376.9,432.7 377.0,432.6 377.5,437.4 378.0,440.0 378.6,438.8 378.8,438.6 379.2,443.4 379.5,447.8 380.2,450.1 380.5,450.0 380.6,449.6 381.1,448.1 381.5,451.7 382.3,454.3 382.5,455.3 382.6,459.9 383.4,460.8 383.3,465.6 384.0,470.0 384.7,470.6 385.4,471.8 385.6,473.7 386.6,474.0 387.3,478.4 387.6,482.0 388.1,485.9 388.9,485.1 389.7,486.5 390.0,490.0 390.6,491.8 392.0,494.8 392.9,494.5 393.5,498.7 394.5,501.0 395.0,504.7 396.0,503.0 396.5,501.3 397.3,501.7 397.5,498.6 397.8,497.1 398.6,491.3 399.2,486.7 399.5,488.4 400.1,486.8 400.4,485.5 400.9,479.5 401.5,477.7 402.0,480.0 402.7,475.1 402.7,470.9 403.4,468.8 404.0,467.0 404.5,465.2 404.9,461.5 405.4,462.2 405.6,460.3 406.4,456.8 406.9,454.8 406.8,455.3 407.8,454.5 408.0,455.0 408.2,452.1 408.4,450.2 408.8,451.3 409.2,450.7 409.7,448.1 409.8,444.9 410.3,440.0 410.6,438.6 411.3,438.3 411.3,436.1 411.9,434.1 412.0,430.5 412.2,428.7 412.7,427.7 412.8,423.2 413.1,422.5 413.4,420.0 414.0,419.0 414.6,415.9 415.2,409.3 415.7,406.2 416.4,405.7 416.4,402.4 417.1,401.7 417.9,399.4 418.4,396.0 418.8,396.7 419.4,398.4 419.7,396.6 420.6,395.0 420.9,395.3 421.3,391.1 421.7,387.8 422.2,388.5 423.2,388.7 423.7,386.1 424.0,383.0 424.6,386.0 425.4,390.1 426.3,392.8 426.8,392.8 427.3,395.4 428.0,395.0 428.5,395.9 428.7,392.7 429.2,392.1 429.0,387.1 429.3,382.6 429.7,380.2 429.9,379.8 430.7,376.1 430.9,375.0 430.9,374.9 431.3,371.3 431.6,368.7 432.2,368.2 432.5,366.4 433.0,363.1 433.0,360.6 433.7,357.9 433.6,355.9 433.9,354.3 434.2,352.4 434.5,349.0 435.2,346.8 435.6,345.2 435.7,342.7 435.7,343.6 436.0,340.5 436.3,333.9 436.8,334.0 437.3,330.9 437.2,329.4 437.8,326.7 438.2,326.3 438.1,323.1 438.7,321.9 439.2,322.8 439.4,321.7 439.7,317.9 440.0,319.0 440.4,322.6 441.5,325.9 442.2,325.5 442.7,325.8 443.0,328.8 444.2,333.9 444.6,333.9 445.4,337.4 446.0,337.5 446.8,339.6 447.3,341.9 448.0,341.0 449.0,343.6 450.5,349.0 451.6,348.4 452.7,351.5 453.9,350.8 455.2,350.6 456.0,353.0 456.7,354.0 457.7,354.1 457.9,355.9 459.0,356.1 459.3,356.9 460.1,357.8 460.7,361.0 461.9,360.9 462.3,361.9 463.2,368.0 463.6,373.8 464.6,377.8 465.3,379.5 465.6,380.1 466.6,382.0 467.4,381.1 468.0,385.0 469.0,381.3 469.6,379.7 470.6,380.3 471.1,377.8 472.3,377.4 472.8,379.4 473.4,374.9 474.5,374.8 475.0,372.5 476.0,367.0 476.9,367.4 477.4,369.2 478.5,370.6 479.1,375.2 480.0,377.0 480.7,374.6 481.1,375.9 481.5,375.8 481.9,373.9 482.5,374.9 482.8,374.5 483.0,372.6 484.0,369.9 484.4,365.3 484.8,363.4 485.3,360.4 485.4,354.9 486.0,349.9 486.7,351.4 487.3,349.5 487.7,348.1 487.7,346.1 488.5,342.8 488.9,341.4 489.3,341.2 489.6,338.2 490.0,336.8 490.7,336.5 491.2,333.2 491.5,331.1 492.1,327.3 492.6,326.1 493.2,323.0 493.6,322.9 494.0,319.0 494.7,322.9 495.5,328.3 496.1,326.6 496.7,332.1 497.6,335.0 498.3,336.6 499.1,333.8 500.0,333.0 500.6,330.0 501.7,327.0 502.0,328.6 503.2,326.5 503.4,322.1 504.1,324.6 505.1,321.7 505.6,318.7 506.5,319.4 507.0,315.9 508.0,313.0 507.9,317.4 508.2,321.2 508.4,320.9 509.0,321.4 508.8,319.5 509.5,324.7 509.3,326.9 509.9,329.1 509.9,331.3 510.0,335.6 510.6,338.5 510.5,342.4 510.9,344.4 510.7,346.4 511.4,348.6 511.7,347.1 511.3,351.6 511.9,350.7 512.0,351.0 512.6,348.0 512.9,346.3 513.2,341.5 514.0,340.9 514.1,344.2 514.5,339.5 514.9,339.5 515.3,336.5 516.0,333.0 516.2,334.8 516.6,334.5 517.3,335.4 517.6,339.4 518.4,344.2 518.5,344.7 519.3,346.3 519.4,346.9 520.0,351.0 520.0,350.9 520.1,350.2 520.5,346.9 520.5,346.1 520.4,344.3 520.3,340.9 520.3,337.1 520.4,331.9 521.0,327.6 520.9,326.4 520.7,326.8 521.1,323.6 520.8,322.0 521.2,320.7 521.2,320.3 521.1,319.2 521.6,319.7 521.6,319.3 521.6,315.8 521.5,314.7 521.9,308.0 521.8,305.7 522.0,303.8 522.0,303.0 522.2,307.5 522.5,310.7 523.2,312.9 523.9,313.8 524.3,313.6 524.2,315.2 524.8,318.7 525.2,321.1 525.4,323.8 526.1,324.6 526.4,325.1 527.0,328.9 527.1,330.1 527.9,333.0 528.0,333.0 528.7,328.9 528.6,327.7 529.5,323.5 530.0,322.8 530.0,322.5 530.6,322.5 530.8,322.6 531.6,319.6 532.0,315.0 532.8,317.1 533.6,317.7 534.1,319.5 534.5,320.1 535.6,322.2 536.1,323.0 536.4,327.6 537.3,329.7 538.0,333.0 538.2,331.7 538.1,330.2 538.4,328.7 538.6,329.2 538.6,328.3 538.8,331.7 539.0,325.6 539.2,322.4 539.1,325.0 539.3,324.6 539.6,319.3 539.7,313.5 539.8,309.4 540.0,305.0 540.3,303.7 540.1,305.5 540.3,306.9 540.8,307.8 540.9,310.0 541.1,312.8 541.2,312.2 541.4,315.2 541.3,315.3 541.3,317.8 541.7,324.8 541.6,325.4 542.4,327.8 542.3,329.7 542.5,334.2 542.8,335.7 542.9,334.6 542.7,333.9 542.9,336.7 543.0,339.7 543.5,344.3 543.7,345.8 543.7,349.6 543.8,349.9 544.0,355.0 544.1,352.6 543.9,352.8 543.9,349.8 544.3,343.5 544.4,343.8 544.2,338.4 544.2,334.4 544.7,333.1 544.8,328.9 544.4,331.8 544.7,330.2 544.7,329.2 544.6,326.2 544.5,328.6 544.8,327.6 545.0,324.0 545.0,324.5 545.0,319.0 544.9,315.8 545.0,314.2 545.1,312.4 545.2,308.4 545.2,309.5 545.6,310.4 545.2,306.4 545.8,305.1 545.4,301.7 545.8,298.8 545.5,298.7 545.8,296.8 545.7,294.5 545.6,292.7 546.1,288.2 546.1,288.6 546.0,285.0 546.7,286.2 547.9,284.3 548.8,286.3 550.0,279.0 550.5,282.2 550.1,282.3 550.5,282.3 550.6,286.1 550.6,286.5 550.8,286.2 551.0,291.1 551.4,294.8 551.6,298.2 551.8,300.7 552.0,301.0 552.2,298.3 552.4,299.3 553.0,291.7 553.0,289.1 553.3,288.3 553.9,288.4 553.8,284.5 554.1,282.6 554.3,281.5 554.8,278.5 555.1,277.8 555.2,274.5 555.5,271.2 555.7,271.5 556.3,268.1 556.3,265.4 556.8,267.8 556.8,268.3 557.3,265.6 557.2,264.4 557.6,261.0 558.0,257.0 558.5,262.1 558.8,263.6 559.4,264.7 559.6,264.8 560.3,265.7 560.8,268.2 561.0,271.7 561.6,276.4 562.3,278.1 562.6,278.9 563.1,280.4 563.7,281.7 564.0,283.0 564.6,280.4 565.5,277.4 566.0,275.0 566.6,269.7 567.4,269.3 567.7,264.5 568.7,261.4 569.0,258.2 569.5,258.1 570.3,259.9 570.8,257.5 571.4,255.2 572.4,252.6 572.7,250.5 573.4,248.4 574.1,251.5 574.7,247.6 575.8,245.6 576.4,242.3 577.0,241.2 577.7,238.4 578.0,237.8 578.9,233.9 579.2,236.3 580.0,235.0 580.8,239.7 580.9,239.6 581.8,240.9 582.3,240.9 583.0,246.2 583.4,250.1 584.0,249.0 585.0,245.7 585.4,244.9 586.2,247.2 586.9,244.2 587.4,245.0 588.5,243.3 589.2,239.6 590.0,236.5 590.5,232.2 591.1,230.0 592.0,229.0" fill="none" stroke="#abfbf7" stroke-width="4.4" stroke-linejoin="miter" stroke-miterlimit="3" shape-rendering="crispEdges"/>
<polyline points="148.0,414.0 148.9,414.5 149.3,419.6 150.0,420.9 150.8,421.5 151.2,422.8 152.0,425.0 152.3,426.9 152.4,427.2 152.8,429.7 152.8,431.1 153.6,432.8 153.6,437.8 154.0,438.0 154.5,440.6 155.6,444.2 156.2,444.4 156.8,444.5 157.5,445.2 158.0,450.0 158.3,453.9 158.5,452.6 158.8,455.2 159.6,457.8 159.6,458.9 160.0,462.0 160.4,464.8 160.8,467.1 161.2,469.7 161.6,470.1 162.0,471.0 162.6,469.1 163.5,466.6 163.8,465.7 164.7,463.1 165.4,464.3 165.9,463.0 166.7,458.6 167.1,455.4 168.0,454.0 169.1,459.3 169.8,459.2 171.2,458.7 172.0,462.0 172.2,465.7 172.7,467.8 173.0,469.0 172.9,470.7 173.2,473.2 173.3,474.8 173.8,477.3 173.9,477.5 174.6,479.3 174.9,480.2 175.0,484.0 175.3,486.9 175.1,488.5 175.0,493.3 175.3,495.6 175.6,493.3 175.4,497.3 175.6,497.5 175.7,500.1 175.7,506.1 175.8,509.8 175.7,509.2 176.0,510.6 176.0,509.0 176.2,512.6 176.0,515.4 175.8,517.0 175.9,516.4 176.1,521.7 176.1,524.3 175.8,526.5 176.1,526.8 176.0,527.0 176.3,527.6 177.3,527.4 177.3,531.8 178.3,534.3 178.6,535.4 179.0,540.0 179.7,541.7 180.3,544.8 180.7,546.3 181.1,547.1 181.9,549.8 182.3,550.4 183.2,549.1 183.4,550.3 184.0,555.0 184.5,555.3 185.0,552.1 185.8,550.8 186.3,550.7 186.5,548.5 187.2,544.3 187.6,539.4 187.9,534.9 188.7,535.2 189.5,533.1 189.7,532.2 190.4,532.5 191.0,531.2 191.1,530.3 192.1,527.4 192.2,522.4 192.8,521.8 193.6,519.7 194.0,519.0 194.4,522.0 194.6,523.3 195.4,525.9 195.6,528.6 195.9,530.8 196.2,532.0 197.0,533.2 196.9,535.1 197.7,537.2 198.0,539.0 198.7,540.4 199.6,540.5 200.2,535.7 201.0,534.6 202.0,532.6 202.5,529.3 203.7,529.6 204.3,528.2 204.9,522.9 205.6,518.6 206.6,515.6 207.4,515.4 208.3,513.6 209.0,513.0 208.8,512.6 209.4,515.2 209.0,517.5 209.1,517.6 209.4,522.9 209.2,523.4 209.4,529.3 209.7,530.1 209.4,531.0 209.8,535.7 209.5,535.8 209.8,536.0 210.0,540.0 210.0,541.0 210.0,543.0 210.9,542.8 211.5,546.1 212.3,548.6 212.6,552.7 213.5,554.3 213.8,554.7 214.8,557.8 215.5,558.8 216.3,557.8 216.9,558.8 217.6,559.3 217.9,559.2 218.8,560.4 219.3,564.3 220.0,571.0 222.2,568.7 224.0,569.0 224.2,572.9 224.9,571.5 225.3,572.7 225.5,573.4 226.4,576.6 226.6,580.5 226.8,582.7 227.8,586.3 227.8,589.0 228.3,591.5 228.6,593.0 229.1,593.4 229.9,596.2 230.3,596.5 230.7,599.3 231.0,599.7 231.4,601.2 232.0,605.0" fill="none" stroke="#ee4fa8" stroke-width="4.4" stroke-linejoin="miter" stroke-miterlimit="3" shape-rendering="crispEdges"/>
<polyline points="148.0,414.0 149.5,415.5 151.7,414.8 153.0,418.6 155.0,418.0 156.4,419.8 157.7,418.9 159.1,420.7 160.4,420.9 162.0,424.0 163.6,422.4 165.3,421.1 166.7,418.0 168.0,418.0 169.0,417.7 170.3,418.5 171.7,420.2 173.1,424.4 174.0,426.0 175.5,423.3 177.0,420.0 178.7,422.3 180.0,420.0 181.1,421.7 181.4,424.7 182.3,424.1 183.3,423.7 184.1,425.9 185.0,431.0 186.3,439.0 186.8,438.5 187.7,436.8 189.0,439.5 189.7,440.3 191.0,441.0 191.4,441.3 192.0,443.9 192.3,448.2 192.7,449.9 193.3,454.3 194.0,453.8 193.9,454.9 194.5,456.5 195.0,458.0 195.6,461.0 196.0,462.7 196.2,463.6 196.9,466.4 197.4,467.9 198.1,470.3 198.2,468.5 199.0,473.0 199.6,474.0 200.0,473.9 200.2,475.1 200.2,474.9 201.0,476.7 201.3,481.1 201.4,484.8 202.2,487.4 202.5,486.6 202.9,490.4 203.0,494.0 203.4,491.9 203.9,492.5 204.0,489.1 204.2,488.2 204.6,486.3 204.9,481.4 205.3,478.1 205.8,478.1 205.5,478.4 206.0,475.1 206.7,475.2 206.5,471.8 207.2,470.2 207.1,468.0 207.8,463.5 208.0,462.0 208.8,461.1 209.4,458.4 210.0,456.0 210.5,460.0 210.1,461.6 210.5,463.5 210.9,462.2 211.3,462.7 211.1,466.6 211.7,464.7 211.7,467.7 212.0,473.2 212.4,474.8 212.1,479.0 212.5,482.4 212.6,484.2 213.0,484.0 213.1,484.8 213.8,487.9 214.0,491.2 213.9,492.4 214.1,491.8 214.9,496.4 215.1,500.9 214.9,501.8 215.6,503.8 215.9,507.4 216.0,506.0 216.1,502.4 216.6,498.5 216.6,499.3 217.3,498.0 217.6,499.2 217.5,494.3 218.0,492.0 218.3,493.8 218.2,491.1 218.9,486.5 219.0,484.0 220.2,481.8 221.0,480.4 222.2,477.2 223.0,477.0 223.4,475.8 223.3,474.2 223.5,472.9 223.4,468.4 223.7,469.6 223.8,467.9 224.3,466.5 224.5,464.4 224.7,461.4 224.7,458.9 225.0,456.1 225.0,454.0 225.2,454.4 225.3,453.3 225.8,452.2 226.0,449.2 225.9,448.2 226.1,445.6 226.5,441.7 226.3,438.4 226.5,437.3 226.6,436.7 227.0,432.0 227.4,426.5 228.2,424.3 228.7,423.4 228.9,423.1 229.3,423.2 230.0,421.0 231.2,420.9 232.7,420.4 234.0,425.0 234.4,425.8 234.2,427.5 234.8,431.8 234.8,429.6 235.0,432.7 235.1,438.6 235.7,438.3 235.8,435.3 235.6,438.2 236.4,443.3 236.1,448.9 236.5,448.5 236.7,447.5 237.0,444.5 237.4,449.8 237.6,455.8 237.7,458.6 237.7,461.6 238.0,462.0 238.4,465.4 238.7,468.8 239.5,469.0 239.8,471.5 240.2,469.0 240.5,473.7 241.0,475.0 241.3,477.7 241.2,479.3 241.4,482.8 242.0,482.3 242.3,484.1 242.3,488.3 242.9,489.7 243.1,491.5 243.0,493.9 243.1,496.5 243.6,499.8 243.9,502.3 243.9,499.9 244.0,501.9 244.5,507.0 244.5,506.4 245.0,509.0 245.8,511.9 246.8,512.3 248.0,515.0 248.8,514.8 249.8,514.1 250.4,515.1 251.8,509.8 252.5,508.4 253.3,504.0 254.2,504.7 255.0,500.0 255.9,495.6 256.4,494.4 257.2,492.8 258.2,490.5 258.8,491.7 259.8,491.1 260.4,488.6 261.4,488.3 262.0,483.0 262.2,482.2 262.5,483.0 262.5,487.4 262.3,489.7 262.9,492.4 262.8,494.8 263.1,497.7 262.9,499.8 263.2,500.3 263.6,502.2 263.9,504.9 263.9,505.6 264.0,509.0 264.1,514.7 264.6,513.9 265.2,517.3 265.5,518.9 265.6,520.0 266.3,519.7 266.3,521.4 267.1,523.5 267.1,524.4 267.4,526.0 268.0,530.0 268.2,531.4 268.4,535.2 268.9,536.1 269.5,541.6 269.3,544.5 270.0,545.3 270.0,546.7 270.2,545.0 271.0,545.0 270.9,545.8 271.2,552.0 271.5,551.8 272.0,555.0 272.7,553.1 273.0,550.4 272.9,549.0 273.7,547.6 273.8,546.9 274.4,543.0 275.0,539.9 275.1,537.0 275.6,537.2 276.1,535.7 276.2,530.4 276.9,525.9 277.2,527.6 277.9,526.2 277.8,521.6 278.5,517.8 278.5,516.0 279.1,516.7 279.4,517.8 280.0,515.0 281.1,511.4 282.4,509.8 283.2,508.7 284.3,507.3 285.7,507.5 286.5,506.7 287.9,505.3 289.0,502.9 289.6,499.1 290.9,496.7 292.0,497.0 292.8,499.2 294.2,500.0 295.1,503.3 295.9,501.7 297.1,503.0 297.9,501.5 299.2,506.8 300.0,511.0 300.3,517.1 300.8,520.0 301.7,518.9 302.0,522.9 302.5,520.9 302.7,523.1 303.3,524.0 304.1,528.0 304.1,531.9 304.8,533.8 305.1,538.9 306.1,542.4 306.1,543.1 307.1,542.8 307.5,549.2 307.9,550.1 308.0,552.5 308.8,553.9 309.2,554.5 309.7,553.1 310.0,554.4 310.7,555.8 311.3,559.3 311.4,559.9 312.3,558.5 312.6,558.0 313.0,559.6 313.4,561.7 314.0,564.7 314.6,565.6 315.1,568.2 315.7,570.1 316.0,575.0 317.2,572.9 318.0,568.5 318.9,566.4 319.8,565.8 320.5,563.7 321.7,563.5 322.3,561.7 323.4,559.3 324.4,558.2 325.4,555.8 326.0,554.1 327.0,554.1 328.0,551.0 328.2,551.5 328.3,547.1 328.9,547.0 328.6,545.7 328.7,544.8 329.3,544.6 329.3,543.0 329.6,538.6 329.9,535.4 329.9,531.4 330.0,527.7 330.1,526.4 330.8,527.8 331.1,525.3 330.9,522.6 331.2,519.3 331.3,514.8 331.3,513.8 332.0,511.7 332.2,510.1 332.0,507.1 332.3,507.0 332.7,503.5 333.0,503.4 333.0,501.0 333.1,504.0 333.5,503.5 334.0,505.4 334.1,507.2 334.5,512.3 335.1,516.3 335.0,514.8 335.6,518.3 335.7,521.5 336.4,526.2 336.7,527.3 336.6,527.7 337.1,529.5 337.1,534.0 337.6,536.7 338.0,541.4 338.4,544.4 338.5,544.8 338.6,544.3 339.0,549.4 339.6,547.9 339.6,548.7 340.0,549.6 340.5,549.3 341.0,549.6 341.1,551.1 341.2,557.2 341.7,558.5 342.0,559.0 343.1,559.7 344.5,564.3 345.8,566.4 347.2,569.0 348.6,566.1 350.0,569.0 350.5,568.3 350.9,572.3 351.4,572.3 352.0,575.6 352.7,574.8 353.2,578.8 353.4,582.5 354.3,583.2 354.7,586.5 355.0,587.7 355.6,592.0 356.1,593.6 357.0,594.8 357.4,594.9 357.8,596.7 358.3,599.7 358.8,603.1 359.3,603.8 360.0,605.0" fill="none" stroke="#ee4fa8" stroke-width="4.4" stroke-linejoin="miter" stroke-miterlimit="3" shape-rendering="crispEdges"/>
<polyline points="148.0,414.0 149.6,413.8 150.9,413.7 152.0,418.5 153.3,421.1 155.0,420.0 156.2,423.2 158.1,426.9 159.4,425.7 160.5,427.4 162.0,428.0 163.2,423.6 164.9,425.7 165.9,424.0 167.1,420.6 168.5,421.2 170.0,420.0 171.1,424.6 173.0,429.2 173.7,426.6 175.4,427.4 176.6,427.7 178.0,430.0 179.2,428.6 180.3,426.4 181.2,425.4 182.8,423.8 183.5,420.1 184.7,418.6 186.0,418.0 187.2,420.5 187.7,425.2 188.9,425.1 189.8,427.8 191.1,429.6 192.2,427.7 192.8,429.5 194.0,432.0 195.5,429.5 197.0,431.9 198.9,430.1 200.3,427.8 202.0,425.0 203.2,424.1 203.8,427.3 204.9,430.5 206.3,432.1 207.2,435.0 208.3,435.5 209.2,439.6 210.0,440.0 211.6,438.7 212.6,434.7 213.9,433.2 215.4,431.7 216.4,430.7 218.0,430.0 218.9,433.5 219.9,435.1 220.8,434.2 222.2,437.9 223.0,436.5 224.2,438.6 224.9,442.2 226.0,445.0 227.5,441.8 229.3,440.6 230.7,442.6 232.6,442.3 234.0,438.0 234.7,436.8 236.0,432.8 236.3,430.4 237.6,430.2 238.3,431.5 239.2,427.7 240.0,426.0 240.1,429.2 240.5,429.6 241.1,431.5 241.8,433.1 241.9,435.3 242.5,438.5 243.1,440.4 243.1,444.8 243.8,449.5 244.4,449.6 244.7,449.2 245.0,450.0 245.5,448.0 245.7,448.4 246.2,452.1 246.7,453.5 246.9,460.8 247.6,463.7 247.4,463.1 248.3,464.3 248.6,469.7 248.8,468.4 249.4,471.0 249.4,470.6 250.0,476.0 250.3,471.6 250.5,471.6 251.4,469.8 251.7,465.4 251.9,465.5 252.2,462.7 252.5,461.0 253.1,458.6 253.3,458.2 254.0,456.7 254.4,453.3 254.5,452.0 254.6,449.5 255.1,443.9 255.3,442.9 255.6,441.4 255.7,438.9 256.2,437.9 256.5,430.8 256.7,431.6 256.8,432.2 257.1,425.9 257.3,424.3 257.4,423.7 257.9,423.4 258.2,421.7 258.2,422.1 258.7,421.0 259.2,421.6 259.0,416.3 259.2,416.5 259.6,411.5 259.9,408.3 260.3,406.3 260.2,403.8 260.7,405.0 261.9,404.8 263.2,402.0 265.0,402.2 266.0,400.0 266.1,399.9 266.3,400.9 267.1,406.3 266.9,410.3 267.4,412.7 267.6,410.1 268.0,414.0 268.4,416.6 268.7,414.6 269.0,422.9 269.0,421.0 270.1,421.0 270.5,421.8 271.3,426.6 272.2,429.7 273.0,431.0 273.5,432.7 274.3,437.3 274.9,438.3 275.4,439.0 275.7,441.2 276.1,442.3 276.8,443.1 277.7,442.9 278.0,444.8 278.6,446.9 279.0,452.0 280.2,454.2 281.5,457.5 282.5,458.0 282.8,456.8 282.7,458.0 283.0,458.0 283.6,455.9 283.8,452.4 284.1,449.4 283.9,448.8 284.0,445.3 284.6,443.6 284.8,443.0 284.9,438.7 284.9,435.1 285.3,433.5 285.6,431.0 285.9,428.7 285.9,428.7 286.3,427.5 286.8,424.8 286.8,425.0 287.4,423.8 287.3,422.4 287.5,420.7 288.1,412.7 288.2,412.4 288.8,409.0 288.8,408.0 288.9,412.7 289.0,416.8 289.4,417.9 289.7,418.3 289.6,422.2 290.0,426.3 290.4,428.5 290.2,428.3 290.7,427.3 290.6,429.9 290.9,430.4 291.2,431.1 291.0,434.0 291.3,438.1 291.8,436.1 291.5,436.9 291.9,441.5 292.0,443.2 292.7,444.2 293.2,448.1 293.4,449.8 294.2,448.8 294.3,453.3 295.0,453.8 295.1,456.3 295.7,458.1 296.0,462.0 297.2,464.6 297.7,465.3 299.0,467.0 299.5,464.9 299.7,464.6 299.9,464.3 300.1,460.6 300.3,460.2 300.2,458.5 300.3,453.6 301.0,449.2 301.2,449.8 301.4,450.0 301.4,446.0 301.6,445.5 302.0,441.5 302.3,439.7 302.4,439.0 303.2,435.0 303.5,433.9 303.9,431.3 304.2,428.0 304.2,425.8 304.4,427.2 304.8,423.8 305.4,421.0 305.9,423.0 306.2,427.2 306.4,426.2 306.9,426.9 307.1,428.8 307.5,431.6 307.8,433.0 307.6,435.1 308.3,437.3 308.5,441.5 309.0,442.9 309.0,444.8 309.6,448.2 309.9,446.6 310.1,453.2 310.3,456.8 310.7,459.3 310.7,465.7 311.0,472.3 311.4,470.8 311.6,472.5 311.9,470.8 312.6,472.0 312.9,472.6 313.2,476.0 313.2,477.5 313.7,476.0 314.6,474.7 315.2,470.3 316.1,468.5 316.4,466.9 317.2,464.3 318.1,462.8 318.8,462.0 319.1,461.2 319.7,460.8 320.5,459.5 320.8,455.4 321.2,452.8 322.1,453.1 322.3,449.8 323.0,446.1 323.6,442.2 324.1,440.6 324.5,436.8 325.2,440.5 325.8,438.6 326.3,436.9 327.0,434.0 327.3,434.5 327.5,437.6 328.2,439.6 328.6,442.1 328.4,445.9 329.0,445.3 329.4,447.3 329.4,449.4 330.0,452.0 330.5,458.4 330.9,459.3 331.2,463.9 331.1,464.7 331.8,464.4 331.8,465.0 332.2,465.8 332.5,468.2 333.0,470.5 334.9,472.3 336.2,468.9 338.0,469.3 339.6,467.0 340.2,468.4 340.7,469.2 341.2,470.6 341.9,473.3 342.3,475.7 342.5,476.6 343.2,479.7 343.7,483.0 344.7,481.2 346.1,480.0 347.0,477.9 348.0,476.0 348.5,475.9 349.7,475.4 350.1,472.1 351.1,469.5 351.8,469.2 352.4,468.1 353.5,464.3 354.0,462.0 354.9,459.0 355.8,458.9 356.6,453.9 357.6,451.6 358.4,453.6 359.0,452.0 359.5,449.9 359.5,446.4 359.7,442.3 359.8,439.2 360.3,437.5 360.6,438.8 360.7,437.2 360.8,438.2 361.3,433.9 361.3,431.9 361.7,428.9 362.1,423.6 362.3,428.8 362.6,426.2 362.9,424.5 363.1,420.9 363.4,417.6 363.6,417.8 363.8,420.4 364.3,423.0 364.2,420.3 364.5,420.7 365.0,422.6 365.0,426.7 365.2,427.6 365.5,432.9 365.4,431.6 365.5,434.1 366.2,437.4 366.2,439.8 366.4,442.6 366.6,446.7 367.4,446.8 367.6,445.2 368.2,440.3 368.9,439.4 369.8,435.6 369.9,437.0 370.7,433.0 370.6,435.8 370.4,438.4 370.4,443.5 370.8,447.0 370.6,449.6 370.5,451.9 370.5,450.5 370.6,452.4 370.6,453.1 370.4,456.2 370.0,456.7 370.4,459.2 370.0,458.8 370.0,462.3 369.9,462.5 370.1,464.1 370.1,466.9 370.0,467.9 369.9,469.6 369.7,473.4 370.0,478.5 369.8,476.6 369.7,476.5 369.9,479.5 369.7,483.0 369.6,489.0 370.0,489.2 370.1,491.8 370.4,493.6 370.2,493.7 370.4,497.0 371.0,498.7 370.5,503.8 371.1,506.6 370.9,507.8 371.4,504.4 371.4,506.0 371.8,509.6 371.7,510.0 372.3,512.4 372.4,518.2 372.9,520.0 373.4,522.4 374.0,524.8 374.7,526.9 375.4,524.6 375.9,529.8 376.3,529.6 376.4,533.8 377.2,537.9 377.7,540.1 378.0,541.0 378.8,542.5 379.1,542.3 379.3,543.0 380.0,543.0 380.5,543.7 380.9,541.3 381.0,539.7 381.8,534.9 382.2,530.5 382.7,528.1 383.0,525.2 383.2,527.9 383.7,525.6 384.4,522.9 384.5,521.8 384.9,519.8 385.4,516.5 386.0,515.0 386.5,514.0 386.5,517.9 386.9,518.6 387.0,518.6 387.2,525.8 387.6,527.6 387.9,530.0 388.0,529.6 388.6,531.1 388.7,532.8 388.9,537.6 389.1,535.5 389.7,535.9 390.1,538.2 390.4,540.4 390.2,542.0 390.4,544.3 391.0,544.3 390.9,548.0 391.7,553.5 391.8,556.9 392.0,559.0 392.1,563.5 392.1,564.3 392.3,568.2 392.7,569.7 392.5,570.6 392.4,570.2 392.7,574.9 392.7,575.7 393.1,575.3 393.1,578.4 393.2,581.2 393.6,583.2 393.6,585.7 393.3,586.0 393.4,586.0 393.9,590.2 393.9,591.1 394.0,595.0 394.6,592.6 395.5,589.9 396.8,586.6 397.5,587.4 398.1,586.6 399.3,586.7 400.0,583.0 400.4,588.1 401.4,587.7 402.3,587.0 402.7,585.6 403.6,589.0 403.8,591.7 404.7,593.9 405.1,593.7 405.9,597.7 406.5,602.3 407.3,603.7 408.0,605.0" fill="none" stroke="#ee4fa8" stroke-width="4.4" stroke-linejoin="miter" stroke-miterlimit="3" shape-rendering="crispEdges"/>
<polyline points="148.0,414.0 149.5,417.8 150.4,419.6 152.0,418.0 152.6,416.5 154.0,420.1 154.5,420.2 155.6,424.3 156.2,425.3 157.0,430.0 157.9,433.1 159.0,433.3 160.1,437.5 160.8,438.6 162.0,438.0 162.9,437.4 164.2,437.4 164.9,435.1 165.8,432.6 167.0,430.0 167.8,437.1 168.8,434.8 169.5,437.0 170.1,438.9 171.3,440.0 172.0,441.0 173.0,440.3 174.1,443.4 175.0,446.6 175.9,450.1 177.0,450.0 177.9,447.3 178.5,444.9 179.7,442.2 180.2,440.4 181.3,442.4 182.0,440.0 183.0,441.5 183.9,442.3 184.4,445.3 185.3,446.8 186.1,451.1 187.0,452.0 188.3,453.5 189.7,453.3 190.5,450.3 192.0,446.0 193.0,446.3 193.7,450.8 194.5,450.7 194.9,452.4 195.8,454.5 196.3,458.1 197.2,459.4 198.0,460.0 199.5,459.6 200.1,458.2 201.8,459.0 203.0,455.6 204.0,452.0 205.0,454.5 206.2,460.2 207.2,463.5 207.9,463.5 208.7,463.2 210.0,462.0 210.8,461.0 211.7,459.3 212.9,454.2 213.2,451.6 214.4,448.7 214.9,450.3 216.0,450.0 217.4,447.7 218.7,447.3 219.7,449.9 220.8,453.5 222.0,458.0 222.8,456.1 223.9,456.6 224.7,452.3 225.3,449.1 226.6,445.8 226.9,445.5 228.0,446.0 229.4,446.9 230.9,446.9 232.7,450.5 234.0,452.0 234.6,448.3 235.5,446.9 236.6,443.9 237.6,443.8 238.2,444.5 238.9,443.2 240.0,440.0 241.6,440.7 242.8,442.8 244.4,443.5 246.0,445.0 246.7,443.2 248.0,438.9 248.4,439.1 249.2,435.9 250.3,435.3 251.1,432.0 252.0,432.0 253.8,434.2 254.9,435.9 256.5,437.4 258.0,438.0 258.9,434.8 259.8,434.9 260.7,432.2 261.4,433.0 262.0,428.2 262.9,427.7 264.0,425.0" fill="none" stroke="#ee4fa8" stroke-width="4.4" stroke-linejoin="miter" stroke-miterlimit="3" shape-rendering="crispEdges"/>
<polyline points="148.0,414.0 148.3,412.8 149.0,410.2 149.0,407.8 149.4,405.7 150.0,405.0 150.5,403.9 150.8,403.3 151.3,400.6 151.7,396.6 152.0,395.0 152.5,395.9 153.3,392.4 153.6,390.0 154.6,384.1 155.0,385.0 155.4,384.6 155.8,381.4 156.3,378.0 157.0,378.0 157.3,374.6 157.3,370.0 157.4,372.5 157.4,368.6 157.5,369.6 157.5,363.7 157.8,361.5 157.8,358.7 158.0,360.0 158.2,360.9 158.3,360.8 158.3,360.5 158.7,353.8 158.9,348.9 159.3,345.1 159.1,344.6 159.3,340.9 159.5,341.6 160.0,339.3 160.0,339.0 160.4,340.4 161.2,344.3 162.1,346.2 162.3,347.5 163.0,348.0 163.7,349.4 164.1,351.1 165.0,354.0 165.8,358.2 167.3,358.7 168.0,360.0 168.2,359.9 168.5,359.5 169.3,356.4 169.4,353.0 170.0,350.0 170.7,348.0 170.9,346.2 171.2,345.7 171.3,344.2 172.0,341.0 172.5,336.8 173.3,337.2 173.7,334.6 174.7,333.1 175.2,330.7 176.0,330.0 176.2,327.6 176.2,326.7 176.1,325.1 175.9,323.6 176.2,320.6 176.3,318.9 176.3,313.7 175.9,312.4 176.2,314.8 176.0,311.0 176.1,311.3 176.3,307.5 176.9,301.8 177.1,300.3 177.2,296.1 177.6,291.0 177.8,291.0 178.3,287.4 178.3,283.1 178.5,281.3 178.7,278.7 178.9,278.8 179.4,276.7 179.3,277.7 179.9,277.7 180.0,279.0 180.4,283.3 180.8,288.5 180.9,289.2 181.4,289.5 181.3,291.2 181.7,294.1 182.1,296.7 182.5,294.9 182.7,296.0 183.0,299.0 184.6,298.2 186.3,297.1 188.0,301.0 188.3,302.7 188.9,306.2 189.2,307.0 189.8,306.5 190.6,306.5 190.8,305.9 191.1,312.3 191.8,313.9 192.0,314.6 192.7,318.4 193.3,321.0 193.4,321.9 194.1,324.4 194.5,326.3 195.2,329.8 195.6,334.3 196.0,335.0 196.3,332.9 196.9,333.1 197.6,329.6 197.8,328.0 198.4,327.1 198.8,324.0 199.0,318.4 199.6,318.3 200.0,317.0 202.0,316.4 204.0,319.0 204.9,316.1 205.2,312.8 205.7,311.2 206.8,307.9 207.1,304.2 208.2,305.5 208.4,305.2 209.1,302.7 210.0,301.0 210.5,298.4 210.7,295.5 211.3,293.7 211.7,289.5 212.1,287.4 212.8,284.8 213.1,280.1 213.9,281.4 214.2,278.2 214.8,277.9 214.8,279.4 215.7,279.0 216.0,275.0 216.9,274.6 217.4,277.0 218.3,279.7 219.4,285.2 220.0,285.0 220.2,284.6 220.5,285.2 220.8,283.4 221.6,278.1 221.6,275.1 222.2,271.8 222.5,271.6 222.5,266.2 223.0,264.5 223.0,264.5 223.9,263.3 224.0,261.0 224.6,261.6 224.7,258.9 225.3,256.1 225.8,251.7 226.2,249.4 226.1,246.5 227.0,243.0 227.0,243.3 227.8,239.7 228.0,241.0 228.6,244.7 229.2,245.9 229.6,246.0 230.3,251.0 231.2,251.0 231.8,258.2 232.3,260.1 232.9,259.2 233.4,259.9 234.0,261.0 234.7,256.9 235.2,251.9 235.4,248.2 236.3,248.1 236.4,245.8 237.0,244.8 237.8,242.2 238.0,239.1 238.6,236.9 238.8,234.4 239.2,235.8 240.0,237.0 241.3,239.2 242.1,240.5 242.8,242.9 244.0,245.0 244.6,243.0 245.1,241.9 245.9,239.5 246.8,238.0 247.4,237.2 247.8,238.3 248.5,234.5 249.3,231.2 250.0,229.0" fill="none" stroke="#64e6e0" stroke-width="4.4" stroke-linejoin="miter" stroke-miterlimit="3" shape-rendering="crispEdges"/>
<polyline points="148.0,414.0 148.9,412.6 149.8,410.7 150.3,407.8 151.2,406.2 152.0,405.0 152.7,402.5 153.6,403.4 154.4,401.4 155.4,395.4 156.4,397.1 157.0,395.0 158.3,396.8 159.7,393.2 160.5,388.9 162.0,389.0 162.2,392.0 163.0,392.2 163.4,393.4 164.0,397.0 165.3,397.8 166.7,400.1 167.6,402.6 169.0,404.0 169.0,402.0 169.3,399.1 169.7,397.6 169.6,397.8 170.0,397.7 170.4,395.9 170.7,392.6 170.6,387.2 170.9,387.8 171.2,388.7 171.3,381.8 171.5,380.8 172.0,378.0 173.8,378.4 175.5,378.1 177.0,376.0 179.2,377.3 181.0,378.0 181.7,378.3 182.3,380.6 182.6,382.6 183.4,385.6 183.8,386.9 184.8,391.5 185.3,391.5 185.9,394.0 186.5,396.0 187.0,397.0 188.0,397.8 188.7,403.4 189.4,406.7 190.3,408.9 191.0,408.2 192.0,408.0 193.1,407.6 194.5,411.0 195.8,411.9 197.0,415.0 197.8,415.6 198.4,416.7 198.8,418.6 199.5,418.5 200.2,421.3 201.0,426.0 201.0,422.5 201.6,419.2 202.0,419.1 201.9,415.3 202.5,420.2 202.7,418.1 202.6,414.3 203.0,411.0 203.0,404.9 202.9,405.4 203.1,406.5 203.3,403.1 203.3,402.3 203.5,397.4 203.4,396.4 203.8,398.1 203.8,393.6 203.8,392.0 204.0,389.0 204.7,386.4 205.0,382.9 205.4,384.9 205.5,383.6 206.1,381.8 206.6,375.9 207.4,373.6 207.3,373.2 208.0,371.0 208.7,371.4 209.1,372.2 209.3,373.3 210.0,378.0 210.3,374.9 210.9,372.3 211.6,370.4 212.4,367.0 212.5,364.2 213.4,362.2 213.8,360.8 214.5,361.3 214.8,357.1 215.2,353.4 216.0,356.0 216.5,356.3 217.5,355.8 218.1,350.1 218.5,347.6 219.5,345.8 220.0,345.0 220.6,344.1 221.3,341.6 222.5,338.3 223.3,338.7 224.0,335.0 224.6,329.7 225.3,331.3 226.1,329.2 226.5,328.4 227.0,325.0 227.5,321.0 228.1,320.0 228.6,318.8 229.3,318.2 230.0,315.6 232.0,314.3 234.0,313.5 234.7,311.6 235.4,314.4 235.9,315.8 236.4,314.7 237.4,316.7 237.9,319.3 238.9,319.6 239.4,324.3 240.0,331.0 241.4,330.2 242.3,326.8 243.4,325.9 244.5,324.0 245.2,327.4 246.5,331.2 247.0,333.4 248.3,333.3 249.1,335.6 249.8,337.3 250.9,336.9 252.0,340.2 252.8,340.5 253.1,335.0 253.7,333.5 253.7,330.8 254.1,325.1 254.0,322.8 254.6,323.9 254.6,324.6 255.0,324.2 255.7,321.4 255.6,319.6 256.0,318.6 256.4,316.9 256.7,316.8 257.0,313.5 257.1,306.5 257.7,305.0 257.7,302.8 257.8,299.4 257.8,295.2 258.1,294.6 258.3,293.4 258.4,285.5 258.7,288.7 258.6,287.5 259.0,285.4 259.5,285.2 259.4,283.9 259.6,284.8 260.0,281.5 260.0,281.0 261.3,284.2 263.1,287.1 264.2,285.7 266.0,285.0 266.6,287.3 267.1,287.9 267.2,289.2 267.8,287.4 267.7,290.2 268.6,294.4 268.9,295.1 269.4,299.4 269.4,302.2 270.0,305.0 270.2,302.5 270.6,302.9 271.2,302.4 271.5,298.3 272.4,294.8 272.5,294.2 273.2,294.9 273.5,294.7 274.1,292.7 274.5,293.2 274.8,286.9 275.1,284.2 275.4,280.6 276.0,277.0 276.7,280.7 277.2,281.6 277.2,283.5 278.1,286.3 278.5,288.4 278.7,289.7 279.1,290.9 279.4,291.2 280.0,295.0 280.3,293.9 280.4,290.0 280.6,288.7 281.1,282.6 281.6,278.7 281.3,274.9 282.0,272.3 282.2,270.3 282.4,267.9 282.6,266.5 282.6,267.2 283.1,270.6 283.5,268.2 283.6,267.3 284.0,265.0 284.1,267.6 284.8,271.8 285.2,274.0 285.9,278.4 286.3,277.7 286.3,280.7 286.8,280.8 287.0,279.3 287.8,281.6 288.0,285.0 288.5,287.1 288.9,287.0 289.1,288.0 289.0,289.6 289.6,290.3 289.7,292.3 290.0,295.5 290.4,297.8 291.0,298.9 291.2,299.6 291.3,304.3 291.7,303.1 291.8,308.2 292.7,310.8 292.9,312.1 293.0,311.8 293.6,316.5 294.0,320.1 294.0,323.0 294.4,321.4 294.9,320.8 295.1,319.8 295.2,320.4 295.3,316.4 296.1,313.0 295.9,311.3 296.8,306.9 297.1,303.7 297.3,304.4 297.7,303.0 297.9,300.7 298.3,297.6 298.5,295.7 298.6,293.6 298.8,289.5 299.5,289.0 299.7,284.5 300.0,285.0 300.0,282.5 300.5,282.5 300.4,282.5 300.3,280.6 300.7,280.3 300.8,280.5 300.5,276.7 301.0,274.9 300.9,269.4 300.9,265.5 301.0,264.6 301.2,261.0 301.3,260.0 301.3,258.9 301.2,253.1 301.7,250.3 301.8,251.5 301.9,249.7 301.8,248.2 302.0,245.0 302.2,244.5 302.7,247.4 303.8,249.8 304.2,252.8 304.2,255.7 305.1,256.1 305.5,258.0 306.0,261.0 306.1,263.2 306.9,259.3 306.9,258.2 307.6,255.0 307.8,251.1 308.0,249.0 308.5,243.5 308.9,245.4 309.1,243.3 309.7,240.0 310.2,240.1 310.3,238.8 310.8,236.8 311.2,232.8 311.8,230.8 312.0,229.0" fill="none" stroke="#64e6e0" stroke-width="4.4" stroke-linejoin="miter" stroke-miterlimit="3" shape-rendering="crispEdges"/>
<polyline points="148.0,414.0 149.0,413.7 150.1,414.9 150.9,418.0 151.7,417.2 152.9,420.4 154.0,425.0 155.0,426.3 155.7,422.3 156.8,418.6 158.0,418.0 158.7,418.9 159.6,418.7 160.5,422.4 161.2,424.7 162.0,428.0 163.1,426.4 163.5,422.1 164.6,423.0 165.0,422.9 166.0,418.0 167.0,416.1 168.0,413.7 168.9,411.3 170.0,410.0 170.5,406.1 171.2,404.5 172.0,405.5 172.6,403.1 173.6,400.6 174.0,398.0 175.0,402.9 175.9,404.3 177.1,404.5 178.0,405.0 178.5,403.9 179.1,402.2 179.9,399.4 180.6,398.1 181.1,396.0 181.4,393.3 182.0,392.0 183.2,395.2 183.8,398.2 184.8,398.8 186.0,400.0 186.8,400.6 187.5,396.9 187.9,395.1 188.4,392.4 189.5,390.2 190.0,388.0 190.9,392.4 191.8,394.1 193.3,394.6 194.0,397.5 195.0,401.2 196.0,398.0 197.1,394.9 197.9,396.0 198.7,396.3 199.6,394.2 200.5,393.6 201.4,390.1 202.0,385.0 203.0,385.2 204.7,381.8 206.0,380.0 206.6,381.6 207.1,383.2 207.5,386.5 207.8,388.0 208.7,389.9 209.2,391.4 209.5,390.7 210.0,395.0 210.5,390.7 210.5,388.3 210.8,385.1 211.2,384.2 211.6,379.9 211.6,379.3 212.2,378.1 212.7,375.3 212.5,374.7 213.3,371.8 213.4,369.9 214.0,367.2 214.0,370.0 214.9,365.8 215.6,363.8 216.0,359.2 216.9,357.8 217.6,354.3 218.2,355.8 219.0,357.0 219.3,356.5 219.9,358.3 220.2,362.7 220.6,364.1 221.2,370.1 221.2,371.1 221.4,374.3 222.3,379.0 222.5,378.7 222.9,382.2 223.4,380.9 223.8,381.3 224.0,382.0 224.3,386.8 224.7,384.3 225.0,390.1 225.4,389.6 226.1,393.5 226.0,396.4 226.6,396.7 226.9,398.2 226.8,395.9 226.8,391.2 227.2,388.2 227.5,385.1 227.4,386.3 227.8,385.7 227.9,382.2 228.0,378.8 228.5,376.8 228.4,374.7 228.8,376.6 229.0,373.2 229.0,369.5 229.1,367.5 228.9,366.1 229.3,365.9 229.3,362.1 229.4,357.7 229.7,354.6 229.3,348.8 229.8,345.8 229.6,349.4 229.6,348.0 229.6,344.8 229.7,341.7 230.0,343.6 232.3,340.6 233.9,339.7 236.2,341.5 236.9,342.9 237.2,346.5 237.7,347.2 238.7,347.6 238.9,348.8 240.1,349.6 240.4,354.0 242.1,356.3 243.6,357.5 245.6,358.0 246.3,361.8 246.9,365.1 247.5,370.5 248.4,369.7 248.7,372.0 249.4,371.4 250.2,371.6 250.7,372.6 251.3,372.1 251.4,369.5 251.9,365.4 252.3,364.0 252.8,362.2 253.6,365.5 254.0,363.9 254.7,363.8 255.5,367.0 256.2,370.0 257.0,372.6 257.6,376.9 258.4,381.7 258.5,380.8 259.3,383.0 259.7,382.7 260.7,383.0 261.1,385.0 261.9,386.0 262.5,389.9 262.8,394.5 263.4,397.3 264.2,395.4 264.6,392.9 265.2,390.1 265.4,387.6 266.2,388.3 266.6,384.8 266.7,380.7 267.3,378.6 267.7,378.6 268.1,377.6 268.7,375.5 269.1,372.3 269.4,372.6 269.7,372.4 270.2,371.1 270.5,367.7 270.7,363.3 271.2,361.2 271.0,359.0 271.5,356.8 271.7,355.7 272.3,351.7 272.5,351.9 272.6,357.0 273.0,358.9 273.4,361.2 274.0,363.8 274.2,366.5 274.8,366.2 275.0,367.4 275.7,368.9 276.2,370.8 276.2,371.1 276.7,372.6 277.6,376.2 278.1,377.4 278.8,378.8 278.9,378.8 279.1,378.2 279.5,376.0 279.7,373.7 280.5,367.9 280.4,369.5 280.7,365.7 281.3,362.0 281.5,361.4 281.6,361.1 281.9,358.0 282.6,357.3 283.6,356.3 284.0,352.9 284.4,359.5 285.1,361.2 285.5,363.7 285.6,366.2 286.2,367.6 286.6,370.1 287.0,369.3 287.0,370.4 287.8,375.9 288.1,372.6 288.5,373.0 288.6,371.0 288.4,367.7 288.4,366.2 288.9,364.6 289.1,361.6 289.2,359.3 289.4,358.4 289.5,354.6 289.6,355.8 289.8,353.7 289.6,350.5 290.2,349.0 290.2,344.4 290.2,343.6 291.0,346.6 291.4,349.2 291.8,350.1 292.5,350.7 293.0,354.2 293.5,355.5 293.9,355.1 294.1,357.3 294.7,360.9 295.4,362.2 296.0,360.4 296.3,358.4 296.5,356.0 296.5,353.4 297.4,349.4 297.2,350.6 297.6,351.1 298.3,347.1 298.5,343.6 298.8,346.9 298.6,350.5 298.9,356.2 299.2,358.3 299.2,359.7 299.2,368.2 299.6,366.8 299.5,366.2 299.9,364.0 299.8,367.2 300.3,367.6 300.2,372.2 300.5,370.5 300.5,369.5 300.8,367.3 301.3,363.5 300.9,359.5 301.4,358.5 301.6,359.3 301.7,354.8 301.6,352.1 301.8,351.2 302.5,351.4 302.4,350.9 302.6,346.7 302.6,343.8 303.0,343.5 303.4,341.9 303.8,339.8 303.9,339.0 304.4,333.6 304.7,331.8 304.7,331.1 304.9,327.2 305.3,323.6 306.3,322.2 306.3,321.1 306.8,320.7 307.1,325.8 307.7,325.2 308.4,326.3 308.4,329.6 309.0,332.8 309.6,332.5 310.3,336.9 310.2,339.5 310.9,338.4 311.2,335.8 311.5,331.9 311.2,326.4 311.6,323.9 311.8,324.3 311.7,324.0 312.2,320.9 312.0,322.1 312.5,319.9 312.4,316.1 312.8,316.2 312.9,317.2 313.0,314.6 313.0,310.4 314.3,308.1 316.0,309.0 317.1,305.2 318.0,304.7 318.9,306.5 320.3,310.3 321.3,312.4 321.5,311.9 321.7,309.1 322.1,306.3 322.9,305.6 322.8,301.8 323.4,300.0 323.4,297.7 323.6,294.6 323.7,292.1 323.3,288.7 323.2,283.6 323.8,284.6 323.4,278.6 323.8,279.0 323.6,277.1 323.5,279.0 323.4,277.3 323.7,275.5 323.8,275.7 323.5,270.4 323.5,268.4 323.7,270.3 324.1,271.3 324.0,268.5 323.8,264.7 323.9,261.5 323.9,261.1 324.0,257.0 324.8,260.7 325.3,262.2 325.7,262.6 326.6,263.1 327.4,266.9 328.0,269.0 330.0,270.9 332.0,271.0 332.5,275.0 332.6,276.1 333.0,279.0 333.5,281.6 333.8,283.0 334.4,285.8 334.3,287.2 334.7,286.9 335.3,288.0 335.8,287.6 335.9,291.1 336.4,294.4 336.4,295.2 337.0,298.5 337.2,300.9 337.8,304.9 338.0,305.0 338.2,307.0 338.8,310.6 339.0,312.5 339.1,318.1 339.6,319.4 339.3,317.5 339.8,319.2 340.2,321.9 340.1,324.8 340.9,325.8 340.7,327.7 341.2,327.7 341.3,329.6 341.7,332.2 342.0,335.0 342.2,336.0 342.6,332.2 343.0,330.3 343.6,329.4 343.9,329.8 344.1,327.0 344.2,324.1 344.7,322.8 345.4,320.4 345.5,318.4 345.8,317.8 346.3,314.0 346.3,313.5 347.0,312.0 347.4,309.3 347.4,304.5 348.0,301.0 348.9,295.3 349.1,295.0 349.8,292.6 350.3,292.8 351.2,289.1 351.5,288.9 352.3,285.3 352.6,284.2 353.4,284.7 354.0,281.0 354.7,282.8 355.3,289.6 355.8,288.7 356.4,294.7 356.6,295.4 357.6,297.0 358.0,295.0 358.6,291.8 359.2,288.2 359.6,284.2 359.9,281.4 360.8,282.8 361.2,279.4 361.6,277.3 362.0,279.0 363.1,278.0 364.9,274.9 366.0,275.0 366.7,274.4 366.8,270.1 367.1,264.6 367.5,263.4 368.4,263.5 368.6,261.8 369.1,259.8 369.3,260.6 370.0,257.0 370.9,256.5 372.0,253.8 373.0,251.2 374.0,249.0 374.8,246.7 375.1,245.2 375.9,246.1 376.6,240.4 377.2,234.0 377.3,233.5 378.3,232.4 379.0,231.8 379.5,230.8 380.0,229.0" fill="none" stroke="#64e6e0" stroke-width="4.4" stroke-linejoin="miter" stroke-miterlimit="3" shape-rendering="crispEdges"/>
<polyline points="148.0,414.0 149.2,417.3 150.0,418.5 151.0,420.0 151.6,417.5 151.7,418.4 152.4,416.1 153.2,415.2 153.3,412.4 154.0,408.0 154.7,404.3 156.1,403.5 156.8,401.1 158.0,400.0 158.8,400.3 159.0,401.1 159.9,403.2 160.3,404.5 161.0,410.0 161.7,408.5 161.9,406.6 162.7,402.7 162.8,397.7 163.3,399.3 164.1,396.3 164.3,396.2 165.0,395.0 165.9,393.0 166.4,390.9 167.1,390.5 168.2,389.1 169.0,385.0 170.2,389.9 171.1,393.6 172.2,391.2 173.0,392.0 173.8,388.4 174.6,386.3 175.7,387.2 176.1,386.4 177.0,383.0 177.5,382.1 178.3,386.8 179.0,392.1 179.6,394.0 180.5,391.3 181.0,395.0 182.0,395.4 182.4,396.0 183.5,401.9 184.1,402.8 185.0,405.0 186.3,400.6 187.3,399.3 187.8,396.8 189.0,398.0 189.8,401.4 190.2,403.1 190.9,404.3 191.4,403.1 192.3,410.1 193.0,410.0 194.2,407.6 195.1,403.5 195.8,402.1 197.0,402.0 197.7,399.8 198.6,399.6 199.7,399.5 200.1,396.7 201.0,392.0 201.6,391.8 202.3,387.4 202.8,385.0 203.4,382.0 203.8,382.8 204.2,377.8 205.0,378.0 206.0,377.9 207.0,380.2 208.1,384.7 209.0,386.0 209.5,384.3 210.0,382.1 210.7,379.3 211.4,376.2 211.8,375.1 212.6,370.8 213.0,372.0 213.8,369.4 214.6,371.0 215.4,369.1 216.5,364.0 217.0,362.0" fill="none" stroke="#64e6e0" stroke-width="4.4" stroke-linejoin="miter" stroke-miterlimit="3" shape-rendering="crispEdges"/>
<line x1="96.1" y1="227" x2="849.5" y2="227" stroke="#000" stroke-width="5.2"/>
<line x1="57" y1="417.8" x2="147" y2="417.8" stroke="#000" stroke-width="4.4"/>
<line x1="103" y1="609" x2="850" y2="606.2" stroke="#000" stroke-width="5.5"/>
<path d="M150.0,222.2 C152.0,221.9 158.3,221.2 162.2,220.7 C166.1,220.1 169.6,219.9 173.3,218.9 C177.0,217.9 180.7,216.2 184.4,214.4 C188.1,212.6 191.9,210.4 195.6,207.8 C199.3,205.2 203.0,202.6 206.7,198.9 C210.4,195.2 214.5,190.6 217.8,185.6 C221.1,180.6 224.1,174.7 226.7,168.9 C229.3,163.2 231.1,157.8 233.3,151.1 C235.5,144.4 237.8,137.1 240.0,128.9 C242.2,120.8 244.5,110.7 246.7,102.2 C248.9,93.7 251.1,85.6 253.3,77.8 C255.5,70.0 257.4,62.5 260.0,55.6 C262.6,48.8 265.6,42.1 268.9,36.7 C272.2,31.3 275.6,26.5 280.0,23.3 C284.4,20.1 290.8,17.9 295.6,17.3 C300.4,16.8 304.5,18.2 308.9,20.0 C313.3,21.8 317.8,24.5 322.2,27.8 C326.6,31.1 331.2,35.6 335.6,40.0 C340.1,44.4 344.5,49.2 348.9,54.4 C353.3,59.6 357.8,65.3 362.2,71.1 C366.6,76.8 371.2,83.2 375.6,88.9 C380.1,94.7 384.5,100.2 388.9,105.6 C393.3,111.0 397.8,116.3 402.2,121.1 C406.6,125.9 411.2,130.5 415.6,134.4 C420.1,138.3 424.8,141.5 428.9,144.4 C433.0,147.3 435.6,149.0 440.0,151.8 C444.4,154.7 448.9,158.1 455.6,161.5 C462.3,164.9 468.5,168.2 480.0,172.2 C491.5,176.2 509.6,181.4 524.4,185.6 C539.2,189.8 551.6,193.9 568.9,197.4 C586.2,200.9 608.4,204.1 628.1,206.3 C647.9,208.5 667.6,209.2 687.4,210.7 C707.2,212.2 726.9,213.6 746.7,215.2 C766.5,216.8 789.0,219.3 806.0,220.5 C823.0,221.7 841.8,222.2 848.9,222.6" fill="none" stroke="#66e8e2" stroke-width="6"/>
<path d="M148.9,612.2 C151.1,612.2 158.1,611.9 162.2,612.2 C166.3,612.5 169.6,612.9 173.3,613.8 C177.0,614.7 180.7,616.2 184.4,617.8 C188.1,619.4 191.9,621.1 195.6,623.3 C199.3,625.5 203.0,628.0 206.7,631.1 C210.4,634.2 214.1,638.1 217.8,642.2 C221.5,646.3 225.2,651.0 228.9,655.6 C232.6,660.2 236.3,665.4 240.0,670.0 C243.7,674.6 247.4,679.4 251.1,683.3 C254.8,687.2 258.5,690.3 262.2,693.3 C265.9,696.3 269.6,699.0 273.3,701.1 C277.0,703.2 280.7,704.9 284.4,706.2 C288.1,707.5 291.9,708.4 295.6,708.9 C299.3,709.4 303.0,709.5 306.7,709.3 C310.4,709.1 314.1,708.7 317.8,707.8 C321.5,706.9 325.2,705.5 328.9,704.0 C332.6,702.5 336.3,700.7 340.0,698.9 C343.7,697.1 347.4,695.3 351.1,693.3 C354.8,691.3 358.5,688.9 362.2,686.7 C365.9,684.5 369.6,682.2 373.3,680.0 C377.0,677.8 380.5,675.3 384.4,673.3 C388.3,671.3 390.9,670.1 396.7,667.8 C402.4,665.5 411.5,662.0 418.9,659.6 C426.3,657.2 433.7,655.3 441.1,653.3 C448.5,651.3 455.9,649.5 463.3,647.8 C470.7,646.1 478.2,644.5 485.6,642.9 C493.0,641.3 500.4,639.6 507.8,638.2 C515.2,636.8 522.6,635.6 530.0,634.4 C537.4,633.2 544.8,632.2 552.2,631.1 C559.6,630.0 567.0,628.9 574.4,627.8 C581.8,626.7 587.8,625.4 596.7,624.4 C605.6,623.4 617.6,622.6 627.8,621.6 C638.0,620.6 642.9,619.8 657.8,618.5 C672.7,617.2 697.2,615.2 717.0,614.0 C736.8,612.8 757.5,611.8 776.3,611.1 C795.1,610.4 817.6,609.9 830.0,609.6 C842.4,609.3 847.1,609.3 850.5,609.3" fill="none" stroke="#ef55ad" stroke-width="6"/>
<polyline points="812.2,396.9 839.6,412.7 812.2,427.1" fill="none" stroke="#7a7a7a" stroke-width="4.2"/>
<line x1="59" y1="367" x2="59" y2="401.3" stroke="#7a7a7a" stroke-width="3.5"/>
<line x1="148.2" y1="367" x2="148.2" y2="401.3" stroke="#7a7a7a" stroke-width="3.5"/>
<line x1="60.9" y1="388.4" x2="146" y2="388.4" stroke="#7a7a7a" stroke-width="3.2" stroke-dasharray="12,11.3"/>
<line x1="103.1" y1="434" x2="103.1" y2="592" stroke="#7a7a7a" stroke-width="3" stroke-dasharray="12,9.5" stroke-dashoffset="-14"/>
<polygon points="103.1,418.7 95.6,434.6 110.8,434.6" fill="#7a7a7a"/>
<polygon points="103.1,605.8 95.6,590.8 110.8,590.8" fill="#7a7a7a"/>
<line x1="848.2" y1="244" x2="848.2" y2="587" stroke="#7a7a7a" stroke-width="3.4" stroke-dasharray="11.5,9.9" stroke-dashoffset="-13.8"/>
<polygon points="848.2,229.9 840.7,244.3 855.6,244.3" fill="#7a7a7a"/>
<polygon points="848.2,601 840.9,586.4 855.3,586.4" fill="#7a7a7a"/>
<text transform="translate(22.73,30.30) scale(0.988,1)" font-family="Liberation Serif" font-weight="bold" font-size="62.98" fill="#000" >a.</text>
<text transform="translate(633.98,149.60) scale(0.974,1)" font-family="Liberation Serif" font-weight="bold" font-size="41.52" fill="#66e8e2" >“Accept”</text>
<text transform="translate(594.10,328.50) scale(0.920,1)" font-family="Liberation Serif" font-weight="normal" font-size="45.00" fill="#000" >v</text>
<text transform="translate(92.80,357.80) scale(0.992,1)" font-family="Liberation Serif" font-weight="normal" font-size="50.00" fill="#000" >t</text>
<text transform="translate(874.32,427.10) scale(1.045,1)" font-family="Liberation Serif" font-weight="normal" font-size="44.89" fill="#000" >a</text>
<text transform="translate(741.86,470.00) scale(1.092,1)" font-family="Liberation Serif" font-weight="bold" font-size="29.42" fill="#000" >time</text>
<text transform="translate(47.19,536.80) scale(0.979,1)" font-family="Liberation Serif" font-weight="normal" font-size="47.83" fill="#000" >z</text>
<text transform="translate(641.68,695.60) scale(1.026,1)" font-family="Liberation Serif" font-weight="bold" font-size="39.28" fill="#ef55ad" >“Reject”</text>


<line x1="55.6" y1="881" x2="55.6" y2="1379" stroke="#000" stroke-width="1.4"/>
<line x1="55" y1="1378.4" x2="541.8" y2="1378.4" stroke="#000" stroke-width="1.4"/>
<line x1="90.6" y1="1375" x2="90.6" y2="1382.5" stroke="#000" stroke-width="1.3"/><line x1="145.7" y1="1375" x2="145.7" y2="1382.5" stroke="#000" stroke-width="1.3"/><line x1="200.8" y1="1375" x2="200.8" y2="1382.5" stroke="#000" stroke-width="1.3"/><line x1="255.9" y1="1375" x2="255.9" y2="1382.5" stroke="#000" stroke-width="1.3"/><line x1="311.0" y1="1375" x2="311.0" y2="1382.5" stroke="#000" stroke-width="1.3"/><line x1="366.1" y1="1375" x2="366.1" y2="1382.5" stroke="#000" stroke-width="1.3"/><line x1="421.2" y1="1375" x2="421.2" y2="1382.5" stroke="#000" stroke-width="1.3"/><line x1="476.3" y1="1375" x2="476.3" y2="1382.5" stroke="#000" stroke-width="1.3"/><line x1="531.4" y1="1375" x2="531.4" y2="1382.5" stroke="#000" stroke-width="1.3"/>
<text transform="translate(77.12,1403.60) scale(1.111,1)" font-family="Liberation Sans" font-weight="normal" font-size="19.71" fill="#000" >0.5</text><text transform="translate(131.51,1403.60) scale(1.134,1)" font-family="Liberation Sans" font-weight="normal" font-size="19.71" fill="#000" >1.0</text><text transform="translate(186.09,1403.60) scale(1.071,1)" font-family="Liberation Sans" font-weight="normal" font-size="20.00" fill="#000" >1.5</text><text transform="translate(241.30,1403.60) scale(1.116,1)" font-family="Liberation Sans" font-weight="normal" font-size="19.71" fill="#000" >2.0</text><text transform="translate(295.59,1403.60) scale(1.128,1)" font-family="Liberation Sans" font-weight="normal" font-size="19.71" fill="#000" >2.5</text><text transform="translate(353.52,1403.60) scale(1.119,1)" font-family="Liberation Sans" font-weight="normal" font-size="19.71" fill="#000" >3.0</text><text transform="translate(408.02,1403.60) scale(1.119,1)" font-family="Liberation Sans" font-weight="normal" font-size="19.71" fill="#000" >3.5</text><text transform="translate(463.96,1403.60) scale(1.121,1)" font-family="Liberation Sans" font-weight="normal" font-size="19.71" fill="#000" >4.0</text><text transform="translate(518.47,1403.60) scale(1.086,1)" font-family="Liberation Sans" font-weight="normal" font-size="20.00" fill="#000" >4.5</text>
<path d="M69.6,1351.6 C72.2,1351.5 79.9,1351.3 85.0,1351.0 C90.1,1350.7 94.8,1350.7 100.0,1349.8 C105.2,1348.9 111.8,1346.6 116.0,1345.6 C120.2,1344.6 122.3,1345.3 125.0,1344.0 C127.7,1342.7 128.8,1342.2 132.0,1338.0 C135.2,1333.8 140.0,1324.2 144.0,1319.0 C148.0,1313.8 153.2,1310.8 156.0,1307.0 C158.8,1303.2 159.0,1303.8 161.0,1296.0 C163.0,1288.2 165.2,1273.7 168.0,1260.0 C170.8,1246.3 175.3,1227.3 178.0,1214.0 C180.7,1200.7 182.0,1192.7 184.0,1180.0 C186.0,1167.3 188.3,1151.3 190.0,1138.0 C191.7,1124.7 192.7,1111.0 194.0,1100.0 C195.3,1089.0 196.3,1080.0 198.0,1072.0 C199.7,1064.0 202.2,1059.7 204.0,1052.0 C205.8,1044.3 207.5,1036.3 209.0,1026.0 C210.5,1015.7 211.8,1000.0 213.0,990.0 C214.2,980.0 214.7,973.0 216.0,966.0 C217.3,959.0 218.5,955.3 221.0,948.0 C223.5,940.7 227.9,930.3 231.0,922.0 C234.1,913.7 236.9,899.7 239.6,898.4 C242.3,897.1 245.1,906.4 247.0,914.0 C248.9,921.6 249.2,935.3 251.0,944.0 C252.8,952.7 255.8,957.0 258.0,966.0 C260.2,975.0 262.0,986.7 264.0,998.0 C266.0,1009.3 268.0,1020.3 270.0,1034.0 C272.0,1047.7 274.0,1062.7 276.0,1080.0 C278.0,1097.3 280.3,1123.0 282.0,1138.0 C283.7,1153.0 283.8,1158.0 286.0,1170.0 C288.2,1182.0 292.3,1196.7 295.0,1210.0 C297.7,1223.3 299.8,1239.0 302.0,1250.0 C304.2,1261.0 306.0,1269.0 308.0,1276.0 C310.0,1283.0 311.7,1284.7 314.0,1292.0 C316.3,1299.3 319.3,1313.7 322.0,1320.0 C324.7,1326.3 327.2,1327.8 330.0,1330.0 C332.8,1332.2 335.7,1330.7 339.0,1333.0 C342.3,1335.3 346.5,1341.4 350.0,1344.0 C353.5,1346.6 355.0,1347.4 360.0,1348.5 C365.0,1349.6 373.3,1350.0 380.0,1350.5 C386.7,1351.0 390.0,1351.2 400.0,1351.4 C410.0,1351.6 426.7,1351.6 440.0,1351.6 C453.3,1351.6 468.0,1351.6 480.0,1351.6 C492.0,1351.6 506.7,1351.6 512.0,1351.6" fill="none" stroke="#3a7ab8" stroke-width="3.3"/>
<path d="M69.6,1352.0 C78.0,1352.0 103.3,1351.8 120.0,1351.8 C136.7,1351.8 156.7,1351.7 170.0,1351.7 C183.3,1351.7 191.7,1351.7 200.0,1351.6 C208.3,1351.5 213.0,1351.5 220.0,1351.2 C227.0,1350.9 234.7,1351.0 242.0,1349.6 C249.3,1348.2 259.3,1345.6 264.0,1343.0 C268.7,1340.4 268.0,1337.8 270.0,1334.0 C272.0,1330.2 274.0,1322.8 276.0,1320.0 C278.0,1317.2 280.2,1318.3 282.0,1317.0 C283.8,1315.7 285.3,1315.8 287.0,1312.0 C288.7,1308.2 289.8,1303.0 292.0,1294.0 C294.2,1285.0 297.3,1271.5 300.0,1258.0 C302.7,1244.5 305.7,1226.0 308.0,1213.0 C310.3,1200.0 311.8,1192.5 314.0,1180.0 C316.2,1167.5 319.0,1153.0 321.0,1138.0 C323.0,1123.0 324.0,1108.0 326.0,1090.0 C328.0,1072.0 331.0,1046.7 333.0,1030.0 C335.0,1013.3 336.2,1004.0 338.0,990.0 C339.8,976.0 342.3,957.7 344.0,946.0 C345.7,934.3 346.7,925.5 348.0,920.0 C349.3,914.5 350.3,914.3 352.0,913.0 C353.7,911.7 356.0,914.2 358.0,912.0 C360.0,909.8 361.6,904.6 364.0,900.0 C366.4,895.4 370.3,885.1 372.6,884.4 C374.9,883.7 376.1,886.7 378.0,896.0 C379.9,905.3 381.7,925.0 384.0,940.0 C386.3,955.0 389.7,971.0 392.0,986.0 C394.3,1001.0 396.0,1014.3 398.0,1030.0 C400.0,1045.7 402.0,1062.0 404.0,1080.0 C406.0,1098.0 408.3,1124.7 410.0,1138.0 C411.7,1151.3 412.0,1149.7 414.0,1160.0 C416.0,1170.3 419.3,1184.3 422.0,1200.0 C424.7,1215.7 427.3,1238.3 430.0,1254.0 C432.7,1269.7 436.0,1286.0 438.0,1294.0 C440.0,1302.0 440.3,1299.7 442.0,1302.0 C443.7,1304.3 445.7,1304.3 448.0,1308.0 C450.3,1311.7 453.3,1318.7 456.0,1324.0 C458.7,1329.3 460.7,1336.5 464.0,1340.0 C467.3,1343.5 471.3,1343.1 476.0,1345.0 C480.7,1346.9 486.0,1350.6 492.0,1351.6 C498.0,1352.6 508.7,1351.1 512.0,1351.0" fill="none" stroke="#f27a22" stroke-width="3.3"/>
<line x1="424.5" y1="897.8" x2="466" y2="897.8" stroke="#3a7ab8" stroke-width="3"/>
<line x1="421" y1="934.4" x2="462.4" y2="934.4" stroke="#f27a22" stroke-width="3"/>
<text x="474.30" y="905.20" font-family="Liberation Serif" font-weight="normal" font-size="27.04" fill="#000" >v_task difficulty_LMA</text>
<text transform="translate(470.70,942.10) scale(1.014,1)" font-family="Liberation Serif" font-weight="normal" font-size="26.62" fill="#000" >v_task difficulty_HMA</text>
<text transform="translate(20.67,793.50) scale(1.017,1)" font-family="Liberation Serif" font-weight="bold" font-size="62.17" fill="#000" >b.</text>
<text transform="translate(118.38,816.80) scale(0.983,1)" font-family="Liberation Serif" font-weight="normal" font-size="41.45" fill="#000" >P(HMA &gt; LMA) = 0.99</text>
<text x="206.84" y="1445.52" font-family="Liberation Sans" font-weight="normal" font-size="30.85" fill="#000" >β</text>
<text transform="translate(234.53,1446.40) scale(1.018,1)" font-family="Liberation Serif" font-weight="normal" font-size="26.48" fill="#000" >task difficulty</text>
<text transform="translate(29.2,1168.8) rotate(-90)" font-family="Liberation Serif" font-size="38.7" fill="#000">density</text>

<line x1="775.5" y1="881.6" x2="775.5" y2="1379" stroke="#000" stroke-width="1.4"/>
<line x1="773.5" y1="1378.4" x2="1257.6" y2="1378.4" stroke="#000" stroke-width="1.4"/>
<line x1="811.8" y1="1379" x2="811.8" y2="1386.5" stroke="#000" stroke-width="1.3"/><line x1="904.9" y1="1379" x2="904.9" y2="1386.5" stroke="#000" stroke-width="1.3"/><line x1="998.0" y1="1379" x2="998.0" y2="1386.5" stroke="#000" stroke-width="1.3"/><line x1="1091.1" y1="1379" x2="1091.1" y2="1386.5" stroke="#000" stroke-width="1.3"/><line x1="1184.2" y1="1379" x2="1184.2" y2="1386.5" stroke="#000" stroke-width="1.3"/>
<text transform="translate(782.64,1408.40) scale(1.122,1)" font-family="Liberation Sans" font-weight="normal" font-size="20.71" fill="#000" >−0.10</text><text transform="translate(878.35,1408.40) scale(1.110,1)" font-family="Liberation Sans" font-weight="normal" font-size="20.71" fill="#000" >−0.05</text><text transform="translate(976.72,1408.40) scale(1.058,1)" font-family="Liberation Sans" font-weight="normal" font-size="20.71" fill="#000" >0.00</text><text transform="translate(1073.14,1408.40) scale(1.036,1)" font-family="Liberation Sans" font-weight="normal" font-size="20.71" fill="#000" >0.05</text><text transform="translate(1166.72,1408.40) scale(1.064,1)" font-family="Liberation Sans" font-weight="normal" font-size="20.71" fill="#000" >0.10</text>
<path d="M797.6,1357.0 C806.3,1357.0 837.6,1357.2 850.0,1357.0 C862.4,1356.8 863.7,1355.8 872.0,1355.5 C880.3,1355.2 892.3,1355.9 900.0,1355.0 C907.7,1354.1 913.7,1352.2 918.0,1350.0 C922.3,1347.8 923.3,1345.3 926.0,1342.0 C928.7,1338.7 931.3,1333.3 934.0,1330.0 C936.7,1326.7 939.0,1327.7 942.0,1322.0 C945.0,1316.3 949.0,1304.7 952.0,1296.0 C955.0,1287.3 957.3,1281.0 960.0,1270.0 C962.7,1259.0 965.7,1241.7 968.0,1230.0 C970.3,1218.3 972.0,1213.3 974.0,1200.0 C976.0,1186.7 978.5,1161.7 980.0,1150.0 C981.5,1138.3 982.0,1138.3 983.0,1130.0 C984.0,1121.7 984.8,1110.0 986.0,1100.0 C987.2,1090.0 988.3,1079.7 990.0,1070.0 C991.7,1060.3 994.0,1052.0 996.0,1042.0 C998.0,1032.0 1000.0,1022.0 1002.0,1010.0 C1004.0,998.0 1006.0,984.3 1008.0,970.0 C1010.0,955.7 1012.3,934.7 1014.0,924.0 C1015.7,913.3 1016.7,910.0 1018.0,906.0 C1019.3,902.0 1020.2,902.7 1022.0,900.0 C1023.8,897.3 1027.2,892.0 1029.0,890.0 C1030.8,888.0 1031.2,887.0 1033.0,888.0 C1034.8,889.0 1037.8,891.0 1040.0,896.0 C1042.2,901.0 1044.2,908.3 1046.0,918.0 C1047.8,927.7 1049.5,940.3 1051.0,954.0 C1052.5,967.7 1053.8,985.0 1055.0,1000.0 C1056.2,1015.0 1056.8,1031.3 1058.0,1044.0 C1059.2,1056.7 1060.3,1065.0 1062.0,1076.0 C1063.7,1087.0 1066.5,1101.0 1068.0,1110.0 C1069.5,1119.0 1069.7,1122.3 1071.0,1130.0 C1072.3,1137.7 1074.5,1147.3 1076.0,1156.0 C1077.5,1164.7 1078.0,1170.7 1080.0,1182.0 C1082.0,1193.3 1085.3,1209.3 1088.0,1224.0 C1090.7,1238.7 1093.7,1257.3 1096.0,1270.0 C1098.3,1282.7 1099.8,1292.3 1102.0,1300.0 C1104.2,1307.7 1106.0,1310.7 1109.0,1316.0 C1112.0,1321.3 1116.3,1327.0 1120.0,1332.0 C1123.7,1337.0 1127.7,1343.4 1131.0,1346.0 C1134.3,1348.6 1135.8,1346.2 1140.0,1347.6 C1144.2,1349.0 1148.7,1353.0 1156.0,1354.4 C1163.3,1355.8 1170.0,1355.6 1184.0,1356.0 C1198.0,1356.4 1230.7,1356.8 1240.0,1357.0" fill="none" stroke="#3a7ab8" stroke-width="3.3"/>
<path d="M797.6,1356.0 C805.7,1356.1 835.3,1356.9 846.0,1356.6 C856.7,1356.3 858.0,1354.4 862.0,1354.0 C866.0,1353.6 867.0,1354.9 870.0,1354.4 C873.0,1353.9 877.0,1351.4 880.0,1351.0 C883.0,1350.6 885.0,1353.0 888.0,1352.0 C891.0,1351.0 895.0,1346.5 898.0,1345.0 C901.0,1343.5 902.7,1346.3 906.0,1343.0 C909.3,1339.7 914.7,1328.8 918.0,1325.0 C921.3,1321.2 923.7,1322.5 926.0,1320.0 C928.3,1317.5 929.3,1315.3 932.0,1310.0 C934.7,1304.7 939.2,1292.3 942.0,1288.0 C944.8,1283.7 947.0,1287.7 949.0,1284.0 C951.0,1280.3 952.2,1276.0 954.0,1266.0 C955.8,1256.0 958.3,1231.8 960.0,1224.0 C961.7,1216.2 962.3,1221.3 964.0,1219.0 C965.7,1216.7 967.7,1219.8 970.0,1210.0 C972.3,1200.2 975.5,1173.3 978.0,1160.0 C980.5,1146.7 982.3,1141.0 985.0,1130.0 C987.7,1119.0 991.2,1105.7 994.0,1094.0 C996.8,1082.3 999.3,1071.0 1002.0,1060.0 C1004.7,1049.0 1008.0,1034.5 1010.0,1028.0 C1012.0,1021.5 1012.7,1021.7 1014.0,1021.0 C1015.3,1020.3 1016.7,1023.0 1018.0,1024.0 C1019.3,1025.0 1020.2,1029.3 1022.0,1027.0 C1023.8,1024.7 1026.8,1014.7 1029.0,1010.0 C1031.2,1005.3 1033.0,999.0 1035.0,999.0 C1037.0,999.0 1038.5,1001.3 1041.0,1010.0 C1043.5,1018.7 1047.8,1044.3 1050.0,1051.0 C1052.2,1057.7 1052.7,1050.8 1054.0,1050.0 C1055.3,1049.2 1056.3,1044.0 1058.0,1046.0 C1059.7,1048.0 1062.2,1053.0 1064.0,1062.0 C1065.8,1071.0 1067.7,1088.7 1069.0,1100.0 C1070.3,1111.3 1070.7,1121.0 1072.0,1130.0 C1073.3,1139.0 1074.8,1147.7 1077.0,1154.0 C1079.2,1160.3 1083.0,1163.3 1085.0,1168.0 C1087.0,1172.7 1087.2,1173.7 1089.0,1182.0 C1090.8,1190.3 1093.8,1208.0 1096.0,1218.0 C1098.2,1228.0 1099.7,1236.3 1102.0,1242.0 C1104.3,1247.7 1107.7,1247.3 1110.0,1252.0 C1112.3,1256.7 1114.0,1263.0 1116.0,1270.0 C1118.0,1277.0 1119.7,1288.3 1122.0,1294.0 C1124.3,1299.7 1127.0,1298.8 1130.0,1304.0 C1133.0,1309.2 1137.0,1321.2 1140.0,1325.0 C1143.0,1328.8 1145.0,1325.0 1148.0,1327.0 C1151.0,1329.0 1155.0,1334.5 1158.0,1337.0 C1161.0,1339.5 1162.3,1339.5 1166.0,1342.0 C1169.7,1344.5 1175.5,1350.3 1180.0,1352.0 C1184.5,1353.7 1189.0,1351.4 1193.0,1352.0 C1197.0,1352.6 1196.2,1355.0 1204.0,1355.6 C1211.8,1356.2 1234.0,1355.6 1240.0,1355.6" fill="none" stroke="#f27a22" stroke-width="3.3"/>
<line x1="1116.3" y1="897.8" x2="1157.8" y2="897.8" stroke="#3a7ab8" stroke-width="3"/>
<line x1="1116.3" y1="934.3" x2="1157.8" y2="934.3" stroke="#f27a22" stroke-width="3"/>
<text transform="translate(1169.60,905.10) scale(0.964,1)" font-family="Liberation Serif" font-weight="normal" font-size="27.83" fill="#000" >v_reward_LMA</text>
<text transform="translate(1169.60,941.90) scale(0.973,1)" font-family="Liberation Serif" font-weight="normal" font-size="27.54" fill="#000" >v_reward_HMA</text>
<text transform="translate(783.20,793.00) scale(1.017,1)" font-family="Liberation Serif" font-weight="bold" font-size="62.34" fill="#000" >c.</text>
<text transform="translate(864.38,816.80) scale(0.980,1)" font-family="Liberation Serif" font-weight="normal" font-size="41.45" fill="#000" >P(HMA &gt; LMA) = 0.45</text>
<text x="963.80" y="1445.69" font-family="Liberation Sans" font-weight="normal" font-size="31.49" fill="#000" >β</text>
<text transform="translate(991.66,1446.40) scale(0.986,1)" font-family="Liberation Serif" font-weight="normal" font-size="27.54" fill="#000" >reward</text>
<text transform="translate(746.1,1168.4) rotate(-90)" font-family="Liberation Serif" font-size="38.7" fill="#000">density</text>

</svg>
</body></html>
